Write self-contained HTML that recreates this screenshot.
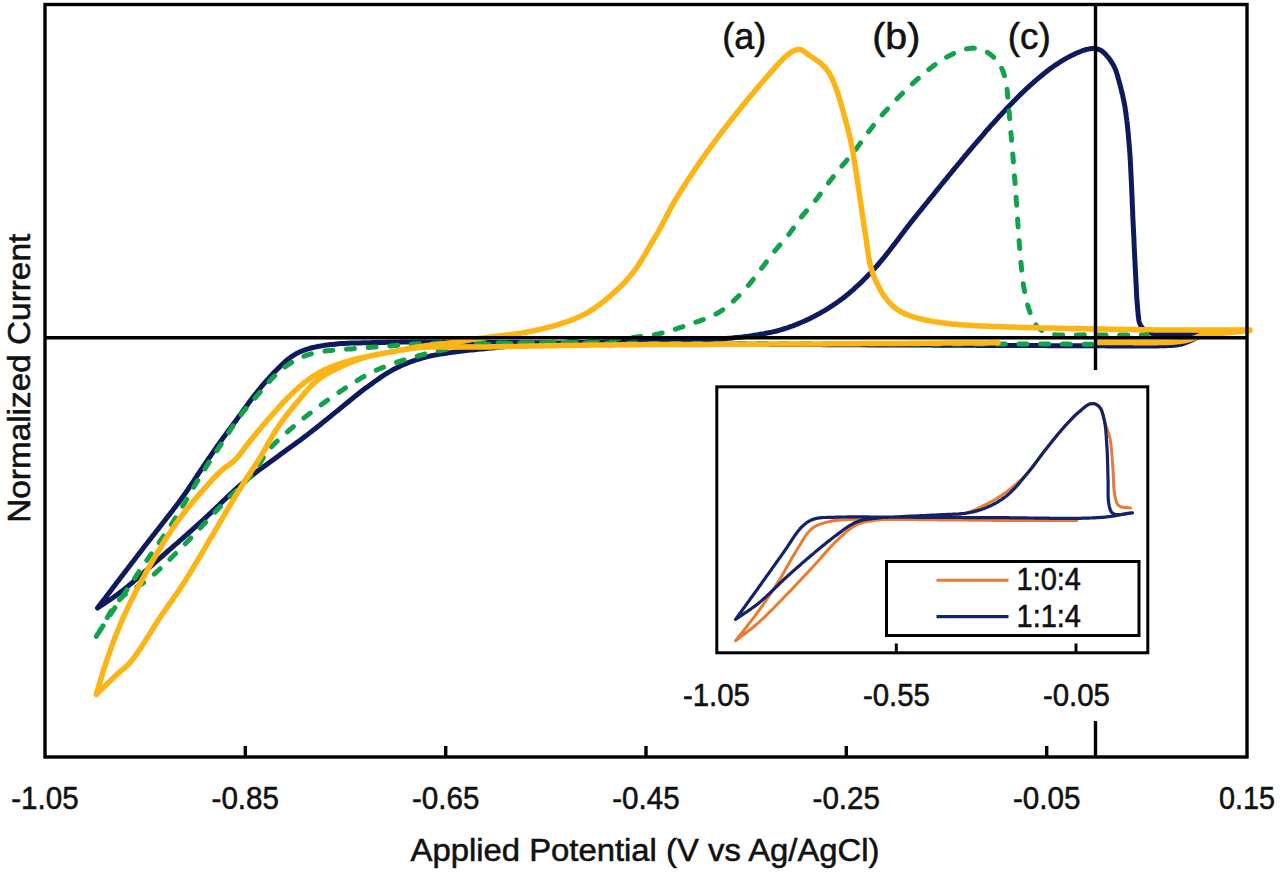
<!DOCTYPE html>
<html><head><meta charset="utf-8"><style>
html,body{margin:0;padding:0;background:#fff;width:1280px;height:874px;overflow:hidden}
svg{display:block;font-family:"Liberation Sans",sans-serif}
</style></head><body>
<svg width="1280" height="874" viewBox="0 0 1280 874">
<rect width="1280" height="874" fill="#fff"/>
<g fill="none" stroke-linejoin="round" stroke-linecap="round">
<path d="M1200.0 336.0 L1198.2 336.9 L1196.4 337.8 L1194.6 338.7 L1192.8 339.6 L1191.0 340.4 L1189.2 341.2 L1187.3 342.0 L1185.5 342.7 L1183.6 343.4 L1181.7 344.0 L1179.7 344.4 L1177.8 344.8 L1175.8 345.1 L1173.8 345.3 L1171.8 345.4 L1169.8 345.5 L1167.8 345.6 L1165.8 345.7 L1163.8 345.7 L1161.8 345.8 L1159.8 345.8 L1157.8 345.9 L1155.8 345.9 L1153.8 345.9 L1151.8 346.0 L1149.8 346.0 L1147.8 346.0 L1145.8 346.0 L1143.8 346.0 L1141.8 346.0 L1139.8 346.0 L1137.8 346.0 L1135.8 346.0 L1133.8 346.0 L1131.8 346.0 L1129.8 346.0 L1127.8 346.0 L1125.7 346.0 L1123.7 346.0 L1121.7 345.9 L1119.7 345.9 L1117.7 345.9 L1115.7 345.9 L1113.7 345.9 L1111.7 345.9 L1109.7 345.9 L1107.7 345.9 L1105.7 345.8 L1103.7 345.8 L1101.7 345.8 L1099.7 345.8 L1097.7 345.8 L1095.7 345.8 L1093.7 345.8 L1091.7 345.8 L1089.7 345.8 L1087.7 345.8 L1085.7 345.8 L1083.7 345.8 L1081.7 345.8 L1079.7 345.8 L1077.7 345.8 L1075.7 345.7 L1073.7 345.7 L1071.7 345.7 L1069.7 345.7 L1067.7 345.7 L1065.7 345.7 L1063.7 345.7 L1061.7 345.7 L1059.6 345.7 L1057.6 345.7 L1055.6 345.7 L1053.6 345.7 L1051.6 345.7 L1049.6 345.7 L1047.6 345.7 L1045.6 345.6 L1043.6 345.6 L1041.6 345.6 L1039.6 345.6 L1037.6 345.6 L1035.6 345.6 L1033.6 345.6 L1031.6 345.6 L1029.6 345.6 L1027.6 345.6 L1025.6 345.6 L1023.6 345.6 L1021.6 345.5 L1019.6 345.5 L1017.6 345.5 L1015.6 345.5 L1013.6 345.5 L1011.6 345.5 L1009.6 345.5 L1007.6 345.5 L1005.6 345.5 L1003.6 345.5 L1001.6 345.5 L999.6 345.5 L997.6 345.4 L995.6 345.4 L993.5 345.4 L991.5 345.4 L989.5 345.4 L987.5 345.4 L985.5 345.4 L983.5 345.4 L981.5 345.4 L979.5 345.4 L977.5 345.4 L975.5 345.3 L973.5 345.3 L971.5 345.3 L969.5 345.3 L967.5 345.3 L965.5 345.3 L963.5 345.3 L961.5 345.3 L959.5 345.3 L957.5 345.3 L955.5 345.3 L953.5 345.2 L951.5 345.2 L949.5 345.2 L947.5 345.2 L945.5 345.2 L943.5 345.2 L941.5 345.2 L939.5 345.2 L937.5 345.2 L935.5 345.2 L933.5 345.2 L931.5 345.1 L929.5 345.1 L927.5 345.1 L925.4 345.1 L923.4 345.1 L921.4 345.1 L919.4 345.1 L917.4 345.1 L915.4 345.1 L913.4 345.1 L911.4 345.1 L909.4 345.0 L907.4 345.0 L905.4 345.0 L903.4 345.0 L901.4 345.0 L899.4 345.0 L897.4 345.0 L895.4 345.0 L893.4 345.0 L891.4 345.0 L889.4 345.0 L887.4 344.9 L885.4 344.9 L883.4 344.9 L881.4 344.9 L879.4 344.9 L877.4 344.9 L875.4 344.9 L873.4 344.9 L871.4 344.9 L869.4 344.9 L867.4 344.9 L865.4 344.8 L863.4 344.8 L861.4 344.8 L859.3 344.8 L857.3 344.8 L855.3 344.8 L853.3 344.8 L851.3 344.8 L849.3 344.8 L847.3 344.8 L845.3 344.8 L843.3 344.7 L841.3 344.7 L839.3 344.7 L837.3 344.7 L835.3 344.7 L833.3 344.7 L831.3 344.7 L829.3 344.7 L827.3 344.7 L825.3 344.7 L823.3 344.7 L821.3 344.6 L819.3 344.6 L817.3 344.6 L815.3 344.6 L813.3 344.6 L811.3 344.6 L809.3 344.6 L807.3 344.6 L805.3 344.6 L803.3 344.6 L801.3 344.5 L799.3 344.5 L797.3 344.5 L795.3 344.5 L793.2 344.5 L791.2 344.5 L789.2 344.5 L787.2 344.5 L785.2 344.5 L783.2 344.5 L781.2 344.5 L779.2 344.4 L777.2 344.4 L775.2 344.4 L773.2 344.4 L771.2 344.4 L769.2 344.4 L767.2 344.4 L765.2 344.4 L763.2 344.4 L761.2 344.3 L759.2 344.3 L757.2 344.3 L755.2 344.3 L753.2 344.3 L751.2 344.3 L749.2 344.3 L747.2 344.3 L745.2 344.3 L743.2 344.3 L741.2 344.2 L739.2 344.2 L737.2 344.2 L735.2 344.2 L733.2 344.2 L731.2 344.2 L729.2 344.2 L727.2 344.2 L725.1 344.2 L723.1 344.1 L721.1 344.1 L719.1 344.1 L717.1 344.1 L715.1 344.1 L713.1 344.1 L711.1 344.1 L709.1 344.1 L707.1 344.0 L705.1 344.0 L703.1 344.0 L701.1 344.0 L699.1 344.0 L697.1 344.0 L695.1 344.0 L693.1 344.0 L691.1 343.9 L689.1 343.9 L687.1 343.9 L685.1 343.9 L683.1 343.9 L681.1 343.9 L679.1 343.9 L677.1 343.8 L675.1 343.8 L673.1 343.8 L671.1 343.8 L669.1 343.8 L667.1 343.8 L665.1 343.8 L663.1 343.8 L661.1 343.7 L659.0 343.7 L657.0 343.7 L655.0 343.7 L653.0 343.7 L651.0 343.7 L649.0 343.6 L647.0 343.6 L645.0 343.6 L643.0 343.6 L641.0 343.6 L639.0 343.6 L637.0 343.6 L635.0 343.5 L633.0 343.5 L631.0 343.5 L629.0 343.5 L627.0 343.5 L625.0 343.5 L623.0 343.5 L621.0 343.4 L619.0 343.4 L617.0 343.4 L615.0 343.4 L613.0 343.4 L611.0 343.4 L609.0 343.3 L607.0 343.3 L605.0 343.3 L603.0 343.3 L601.0 343.3 L599.0 343.3 L597.0 343.2 L595.0 343.2 L593.0 343.2 L590.9 343.2 L588.9 343.2 L586.9 343.2 L584.9 343.2 L582.9 343.1 L580.9 343.1 L578.9 343.1 L576.9 343.1 L574.9 343.1 L572.9 343.1 L570.9 343.0 L568.9 343.0 L566.9 343.0 L564.9 343.0 L562.9 343.0 L560.9 343.0 L558.9 342.9 L556.9 342.9 L554.9 342.9 L552.9 342.9 L550.9 342.9 L548.9 342.9 L546.9 342.9 L544.9 342.8 L542.9 342.8 L540.9 342.8 L538.9 342.8 L536.9 342.8 L534.9 342.8 L532.9 342.7 L530.9 342.7 L528.9 342.7 L526.9 342.7 L524.9 342.7 L522.8 342.7 L520.8 342.7 L518.8 342.6 L516.8 342.6 L514.8 342.6 L512.8 342.6 L510.8 342.6 L508.8 342.6 L506.8 342.5 L504.8 342.5 L502.8 342.5 L500.8 342.5 L498.8 342.5 L496.8 342.5 L494.8 342.5 L492.8 342.4 L490.8 342.4 L488.8 342.4 L486.8 342.4 L484.8 342.4 L482.8 342.4 L480.8 342.3 L478.8 342.3 L476.8 342.3 L474.8 342.3 L472.8 342.3 L470.8 342.3 L468.8 342.2 L466.8 342.2 L464.8 342.2 L462.8 342.2 L460.8 342.2 L458.8 342.2 L456.7 342.1 L454.7 342.1 L452.7 342.1 L450.7 342.1 L448.7 342.1 L446.7 342.1 L444.7 342.1 L442.7 342.0 L440.7 342.0 L438.7 342.0 L436.7 342.0 L434.7 342.0 L432.7 342.0 L430.7 342.0 L428.7 342.0 L426.7 342.0 L424.7 342.0 L422.7 342.0 L420.7 342.0 L418.7 342.0 L416.7 342.0 L414.7 342.0 L412.7 342.0 L410.7 342.0 L408.7 342.1 L406.7 342.1 L404.7 342.1 L402.7 342.1 L400.7 342.1 L398.7 342.2 L396.7 342.2 L394.7 342.2 L392.7 342.2 L390.7 342.3 L388.6 342.3 L386.6 342.3 L384.6 342.4 L382.6 342.4 L380.6 342.5 L378.6 342.5 L376.6 342.6 L374.6 342.6 L372.6 342.6 L370.6 342.7 L368.6 342.7 L366.6 342.8 L364.6 342.8 L362.6 342.8 L360.6 342.9 L358.6 342.9 L356.6 342.9 L354.6 343.0 L352.6 343.0 L350.6 343.1 L348.6 343.2 L346.6 343.3 L344.6 343.4 L342.6 343.5 L340.6 343.6 L338.6 343.8 L336.6 344.0 L334.6 344.2 L332.6 344.4 L330.6 344.6 L328.6 344.8 L326.7 345.1 L324.7 345.3 L322.7 345.6 L320.7 346.0 L318.7 346.3 L316.8 346.7 L314.8 347.1 L312.9 347.5 L310.9 348.0 L309.0 348.6 L307.1 349.1 L305.2 349.8 L303.3 350.5 L301.4 351.2 L299.6 352.0 L297.8 352.9 L296.0 353.8 L294.3 354.8 L292.6 355.9 L291.0 357.0 L289.3 358.2 L287.8 359.4 L286.3 360.7 L284.8 362.0 L283.3 363.4 L281.8 364.8 L280.4 366.2 L279.0 367.6 L277.5 369.0 L276.1 370.4 L274.7 371.8 L273.3 373.3 L272.0 374.7 L270.6 376.2 L269.3 377.7 L267.9 379.2 L266.6 380.7 L265.3 382.2 L264.0 383.7 L262.7 385.2 L261.4 386.7 L260.1 388.3 L258.8 389.8 L257.5 391.4 L256.3 393.0 L255.1 394.5 L253.8 396.1 L252.6 397.7 L251.4 399.3 L250.2 400.9 L249.0 402.5 L247.9 404.2 L246.7 405.8 L245.5 407.4 L244.3 409.0 L243.2 410.6 L242.0 412.3 L240.8 413.9 L239.6 415.5 L238.4 417.1 L237.3 418.7 L236.1 420.3 L234.9 421.9 L233.7 423.6 L232.5 425.2 L231.3 426.8 L230.1 428.4 L228.9 430.0 L227.7 431.6 L226.6 433.2 L225.4 434.9 L224.2 436.5 L223.0 438.1 L221.9 439.7 L220.7 441.3 L219.5 443.0 L218.4 444.6 L217.2 446.2 L216.1 447.9 L214.9 449.5 L213.8 451.2 L212.6 452.8 L211.5 454.5 L210.4 456.1 L209.2 457.8 L208.1 459.4 L207.0 461.1 L205.8 462.7 L204.7 464.4 L203.6 466.0 L202.5 467.7 L201.3 469.4 L200.2 471.0 L199.1 472.7 L198.0 474.4 L196.9 476.0 L195.8 477.7 L194.7 479.4 L193.6 481.1 L192.5 482.7 L191.4 484.4 L190.3 486.1 L189.1 487.7 L188.0 489.4 L186.9 491.0 L185.7 492.7 L184.6 494.3 L183.4 495.9 L182.2 497.5 L181.0 499.2 L179.9 500.8 L178.7 502.4 L177.5 504.0 L176.3 505.6 L175.1 507.2 L173.8 508.8 L172.6 510.4 L171.4 512.0 L170.2 513.6 L169.0 515.1 L167.7 516.7 L166.5 518.3 L165.3 519.9 L164.0 521.5 L162.8 523.0 L161.6 524.6 L160.3 526.2 L159.1 527.8 L157.9 529.4 L156.6 530.9 L155.4 532.5 L154.2 534.1 L152.9 535.7 L151.7 537.2 L150.5 538.8 L149.2 540.4 L148.0 542.0 L146.8 543.6 L145.5 545.1 L144.3 546.7 L143.1 548.3 L141.9 549.9 L140.7 551.5 L139.4 553.1 L138.2 554.7 L137.0 556.3 L135.8 557.8 L134.6 559.4 L133.4 561.0 L132.1 562.6 L130.9 564.2 L129.7 565.8 L128.5 567.4 L127.3 569.0 L126.1 570.6 L124.8 572.2 L123.6 573.8 L122.4 575.4 L121.2 576.9 L120.0 578.5 L118.8 580.1 L117.5 581.7 L116.3 583.3 L115.1 584.9 L113.9 586.5 L112.7 588.1 L111.5 589.7 L110.3 591.3 L109.0 592.9 L107.8 594.5 L106.6 596.1 L105.4 597.7 L104.2 599.2 L103.0 600.8 L101.8 602.4 L100.5 604.0 L99.3 605.6 L98.1 607.2 L97.5 608.0 M97.5 608.0 L99.2 606.9 L100.8 605.8 L102.5 604.7 L104.2 603.6 L105.8 602.5 L107.5 601.4 L109.2 600.2 L110.8 599.1 L112.5 598.0 L114.1 596.9 L115.8 595.7 L117.4 594.5 L119.0 593.3 L120.6 592.1 L122.2 590.9 L123.8 589.7 L125.3 588.4 L126.9 587.1 L128.4 585.9 L129.9 584.6 L131.5 583.3 L133.0 582.0 L134.5 580.7 L136.0 579.4 L137.5 578.1 L139.0 576.7 L140.5 575.4 L142.0 574.1 L143.5 572.8 L145.0 571.4 L146.5 570.1 L148.0 568.8 L149.5 567.4 L151.0 566.1 L152.5 564.8 L154.0 563.4 L155.5 562.1 L157.0 560.8 L158.5 559.4 L160.0 558.1 L161.5 556.8 L163.0 555.5 L164.5 554.2 L166.0 552.8 L167.5 551.5 L169.0 550.2 L170.5 548.9 L172.0 547.6 L173.5 546.2 L175.0 544.9 L176.6 543.6 L178.1 542.3 L179.6 540.9 L181.1 539.6 L182.6 538.3 L184.1 537.0 L185.6 535.6 L187.1 534.3 L188.6 533.0 L190.1 531.7 L191.6 530.3 L193.0 529.0 L194.5 527.7 L196.0 526.3 L197.5 525.0 L199.0 523.6 L200.5 522.3 L202.0 521.0 L203.5 519.6 L204.9 518.3 L206.4 516.9 L207.9 515.5 L209.3 514.2 L210.8 512.8 L212.3 511.4 L213.7 510.1 L215.2 508.7 L216.6 507.3 L218.1 505.9 L219.5 504.5 L220.9 503.1 L222.4 501.7 L223.8 500.4 L225.3 499.0 L226.7 497.6 L228.2 496.2 L229.6 494.8 L231.1 493.5 L232.6 492.1 L234.0 490.7 L235.5 489.4 L237.0 488.0 L238.5 486.7 L240.0 485.4 L241.5 484.1 L243.0 482.8 L244.5 481.5 L246.1 480.2 L247.6 478.9 L249.2 477.6 L250.7 476.4 L252.3 475.2 L253.9 473.9 L255.5 472.7 L257.1 471.5 L258.7 470.3 L260.3 469.1 L261.9 468.0 L263.5 466.8 L265.2 465.6 L266.8 464.4 L268.4 463.2 L270.0 462.1 L271.6 460.9 L273.3 459.7 L274.9 458.5 L276.5 457.4 L278.1 456.2 L279.7 455.0 L281.3 453.8 L283.0 452.6 L284.6 451.4 L286.2 450.3 L287.8 449.1 L289.4 447.9 L291.1 446.7 L292.7 445.6 L294.3 444.4 L295.9 443.2 L297.5 442.0 L299.2 440.9 L300.8 439.7 L302.4 438.5 L304.0 437.3 L305.6 436.1 L307.2 434.9 L308.8 433.6 L310.3 432.4 L311.9 431.2 L313.5 429.9 L315.1 428.7 L316.6 427.5 L318.2 426.2 L319.8 425.0 L321.3 423.7 L322.9 422.4 L324.4 421.2 L326.0 419.9 L327.6 418.7 L329.1 417.4 L330.7 416.2 L332.2 414.9 L333.8 413.6 L335.3 412.4 L336.9 411.1 L338.5 409.9 L340.0 408.6 L341.6 407.3 L343.1 406.1 L344.7 404.8 L346.2 403.5 L347.8 402.3 L349.3 401.0 L350.9 399.7 L352.4 398.5 L354.0 397.2 L355.5 395.9 L357.1 394.7 L358.7 393.5 L360.2 392.2 L361.8 391.0 L363.4 389.8 L365.0 388.6 L366.6 387.4 L368.3 386.2 L369.9 385.0 L371.5 383.9 L373.1 382.7 L374.7 381.5 L376.4 380.4 L378.0 379.2 L379.6 378.1 L381.3 376.9 L383.0 375.8 L384.6 374.7 L386.3 373.7 L388.0 372.6 L389.8 371.6 L391.5 370.6 L393.2 369.6 L395.0 368.7 L396.8 367.8 L398.6 366.9 L400.4 366.0 L402.2 365.2 L404.1 364.4 L405.9 363.6 L407.8 362.9 L409.6 362.2 L411.5 361.5 L413.4 360.8 L415.3 360.2 L417.2 359.5 L419.1 359.0 L421.0 358.4 L423.0 357.8 L424.9 357.3 L426.8 356.8 L428.8 356.4 L430.7 355.9 L432.7 355.5 L434.7 355.1 L436.6 354.8 L438.6 354.4 L440.6 354.1 L442.6 353.8 L444.5 353.5 L446.5 353.2 L448.5 352.9 L450.5 352.6 L452.5 352.3 L454.4 352.1 L456.4 351.8 L458.4 351.5 L460.4 351.2 L462.4 351.0 L464.4 350.7 L466.4 350.5 L468.3 350.3 L470.3 350.1 L472.3 349.9 L474.3 349.7 L476.3 349.5 L478.3 349.3 L480.3 349.1 L482.3 348.9 L484.3 348.7 L486.3 348.5 L488.3 348.3 L490.3 348.1 L492.3 347.9 L494.2 347.7 L496.2 347.5 L498.2 347.3 L500.2 347.1 L502.2 347.0 L504.2 346.8 L506.2 346.6 L508.2 346.4 L510.2 346.2 L512.2 346.1 L514.2 345.9 L516.2 345.7 L518.2 345.6 L520.2 345.4 L522.2 345.2 L524.2 345.1 L526.2 344.9 L528.2 344.8 L530.2 344.6 L532.2 344.5 L534.2 344.4 L536.1 344.2 L538.1 344.1 L540.1 344.0 L542.1 343.9 L544.1 343.8 L546.1 343.7 L548.1 343.6 L550.1 343.5 L552.1 343.4 L554.1 343.3 L556.1 343.2 L558.1 343.2 L560.1 343.1 L562.1 343.0 L564.1 342.9 L566.2 342.9 L568.2 342.8 L570.2 342.7 L572.2 342.7 L574.2 342.6 L576.2 342.6 L578.2 342.5 L580.2 342.5 L582.2 342.4 L584.2 342.4 L586.2 342.3 L588.2 342.3 L590.2 342.2 L592.2 342.2 L594.2 342.1 L596.2 342.1 L598.2 342.0 L600.2 342.0 L602.2 342.0 L604.2 341.9 L606.2 341.9 L608.2 341.8 L610.2 341.8 L612.2 341.7 L614.2 341.7 L616.2 341.6 L618.2 341.5 L620.2 341.5 L622.2 341.4 L624.2 341.4 L626.2 341.3 L628.2 341.3 L630.2 341.2 L632.2 341.2 L634.2 341.2 L636.2 341.1 L638.2 341.1 L640.2 341.0 L642.2 341.0 L644.2 341.0 L646.2 340.9 L648.2 340.9 L650.2 340.9 L652.2 340.8 L654.2 340.8 L656.2 340.8 L658.2 340.7 L660.2 340.7 L662.2 340.7 L664.2 340.6 L666.2 340.6 L668.2 340.5 L670.2 340.5 L672.2 340.5 L674.2 340.4 L676.2 340.4 L678.3 340.4 L680.3 340.3 L682.3 340.3 L684.3 340.2 L686.3 340.2 L688.3 340.1 L690.3 340.1 L692.3 340.0 L694.3 340.0 L696.3 339.9 L698.3 339.9 L700.3 339.8 L702.3 339.8 L704.3 339.7 L706.3 339.6 L708.3 339.5 L710.3 339.4 L712.3 339.4 L714.3 339.3 L716.3 339.1 L718.3 339.0 L720.3 338.9 L722.3 338.8 L724.3 338.6 L726.3 338.5 L728.3 338.3 L730.3 338.2 L732.3 338.0 L734.2 337.8 L736.2 337.6 L738.2 337.4 L740.2 337.2 L742.2 337.0 L744.2 336.7 L746.2 336.4 L748.2 336.2 L750.1 335.9 L752.1 335.6 L754.1 335.3 L756.1 335.0 L758.1 334.7 L760.0 334.3 L762.0 334.0 L764.0 333.7 L765.9 333.3 L767.9 332.9 L769.9 332.5 L771.8 332.1 L773.8 331.6 L775.7 331.2 L777.7 330.7 L779.6 330.2 L781.5 329.6 L783.4 329.0 L785.4 328.4 L787.3 327.8 L789.1 327.1 L791.0 326.5 L792.9 325.8 L794.8 325.1 L796.7 324.4 L798.5 323.6 L800.4 322.8 L802.2 322.0 L804.0 321.2 L805.8 320.4 L807.7 319.6 L809.5 318.7 L811.3 317.8 L813.0 316.9 L814.8 316.0 L816.6 315.0 L818.4 314.1 L820.1 313.1 L821.8 312.1 L823.6 311.1 L825.3 310.1 L827.0 309.1 L828.7 308.0 L830.4 306.9 L832.1 305.8 L833.7 304.7 L835.4 303.6 L837.0 302.5 L838.7 301.3 L840.3 300.1 L841.9 298.9 L843.5 297.7 L845.1 296.5 L846.6 295.2 L848.2 294.0 L849.7 292.7 L851.2 291.4 L852.8 290.1 L854.3 288.7 L855.7 287.4 L857.2 286.0 L858.7 284.7 L860.1 283.3 L861.6 281.9 L863.0 280.5 L864.4 279.1 L865.8 277.7 L867.2 276.2 L868.6 274.8 L870.0 273.4 L871.4 271.9 L872.7 270.4 L874.1 269.0 L875.4 267.5 L876.8 266.0 L878.1 264.5 L879.4 263.0 L880.7 261.4 L882.0 259.9 L883.2 258.3 L884.5 256.8 L885.8 255.2 L887.0 253.7 L888.2 252.1 L889.5 250.5 L890.7 248.9 L891.9 247.3 L893.1 245.7 L894.4 244.2 L895.6 242.6 L896.8 241.0 L898.0 239.4 L899.2 237.8 L900.4 236.2 L901.6 234.6 L902.8 233.0 L904.0 231.4 L905.2 229.8 L906.4 228.2 L907.6 226.6 L908.9 225.0 L910.1 223.4 L911.3 221.9 L912.6 220.3 L913.8 218.7 L915.1 217.2 L916.3 215.6 L917.6 214.0 L918.8 212.5 L920.1 210.9 L921.4 209.4 L922.6 207.8 L923.9 206.2 L925.1 204.7 L926.4 203.1 L927.7 201.6 L928.9 200.0 L930.2 198.5 L931.4 196.9 L932.7 195.4 L934.0 193.8 L935.2 192.2 L936.5 190.7 L937.7 189.1 L939.0 187.6 L940.3 186.0 L941.5 184.5 L942.8 182.9 L944.1 181.4 L945.3 179.8 L946.6 178.3 L947.9 176.7 L949.1 175.2 L950.4 173.6 L951.7 172.1 L952.9 170.5 L954.2 169.0 L955.5 167.4 L956.8 165.9 L958.0 164.3 L959.3 162.8 L960.6 161.3 L961.9 159.7 L963.1 158.2 L964.4 156.6 L965.7 155.1 L967.0 153.6 L968.3 152.0 L969.6 150.5 L970.9 149.0 L972.2 147.4 L973.5 145.9 L974.8 144.4 L976.1 142.9 L977.4 141.3 L978.7 139.8 L980.0 138.3 L981.3 136.8 L982.6 135.3 L983.9 133.8 L985.2 132.2 L986.5 130.7 L987.8 129.2 L989.2 127.7 L990.5 126.2 L991.8 124.7 L993.2 123.3 L994.5 121.8 L995.9 120.3 L997.2 118.8 L998.5 117.3 L999.9 115.8 L1001.3 114.4 L1002.6 112.9 L1004.0 111.4 L1005.4 110.0 L1006.7 108.5 L1008.1 107.1 L1009.5 105.6 L1010.9 104.2 L1012.3 102.8 L1013.7 101.3 L1015.1 99.9 L1016.5 98.5 L1017.9 97.1 L1019.3 95.6 L1020.8 94.2 L1022.2 92.8 L1023.6 91.5 L1025.1 90.1 L1026.5 88.7 L1028.0 87.3 L1029.5 86.0 L1031.0 84.6 L1032.5 83.3 L1034.0 82.0 L1035.5 80.7 L1037.0 79.4 L1038.5 78.1 L1040.1 76.8 L1041.6 75.5 L1043.2 74.2 L1044.7 73.0 L1046.3 71.8 L1047.9 70.5 L1049.5 69.3 L1051.1 68.1 L1052.7 67.0 L1054.3 65.8 L1056.0 64.7 L1057.7 63.6 L1059.3 62.5 L1061.0 61.4 L1062.7 60.4 L1064.5 59.3 L1066.2 58.4 L1068.0 57.4 L1069.7 56.5 L1071.5 55.5 L1073.3 54.7 L1075.1 53.8 L1076.9 53.0 L1078.8 52.2 L1080.6 51.5 L1082.5 50.7 L1084.4 50.1 L1086.3 49.5 L1088.3 49.1 L1090.2 48.7 L1092.2 48.5 L1094.2 48.5 L1096.1 48.7 L1098.0 49.2 L1099.9 49.9 L1101.6 50.8 L1103.1 52.0 L1104.6 53.3 L1106.0 54.8 L1107.3 56.3 L1108.6 57.8 L1109.8 59.4 L1110.9 61.1 L1112.0 62.8 L1113.0 64.5 L1114.0 66.2 L1114.8 68.0 L1115.6 69.9 L1116.3 71.8 L1116.9 73.7 L1117.5 75.6 L1118.0 77.5 L1118.5 79.4 L1119.1 81.4 L1119.6 83.3 L1120.1 85.2 L1120.6 87.2 L1121.1 89.1 L1121.6 91.1 L1122.1 93.0 L1122.6 94.9 L1123.0 96.9 L1123.4 98.9 L1123.8 100.8 L1124.2 102.8 L1124.6 104.8 L1124.9 106.7 L1125.2 108.7 L1125.5 110.7 L1125.8 112.7 L1126.1 114.6 L1126.3 116.6 L1126.6 118.6 L1126.8 120.6 L1127.1 122.6 L1127.3 124.6 L1127.5 126.6 L1127.7 128.6 L1127.9 130.6 L1128.1 132.6 L1128.3 134.5 L1128.5 136.5 L1128.6 138.5 L1128.8 140.5 L1129.0 142.5 L1129.1 144.5 L1129.3 146.5 L1129.5 148.5 L1129.6 150.5 L1129.8 152.5 L1129.9 154.5 L1130.0 156.5 L1130.2 158.5 L1130.3 160.5 L1130.4 162.5 L1130.5 164.5 L1130.6 166.5 L1130.7 168.5 L1130.8 170.5 L1130.9 172.5 L1131.0 174.5 L1131.1 176.5 L1131.2 178.5 L1131.3 180.5 L1131.4 182.5 L1131.5 184.5 L1131.6 186.5 L1131.7 188.5 L1131.7 190.5 L1131.8 192.5 L1131.9 194.5 L1132.0 196.5 L1132.1 198.5 L1132.2 200.5 L1132.2 202.5 L1132.3 204.5 L1132.4 206.5 L1132.5 208.5 L1132.6 210.5 L1132.7 212.5 L1132.7 214.5 L1132.8 216.5 L1132.9 218.5 L1133.0 220.5 L1133.1 222.5 L1133.2 224.5 L1133.3 226.5 L1133.4 228.5 L1133.5 230.5 L1133.6 232.5 L1133.7 234.5 L1133.8 236.5 L1133.9 238.5 L1134.0 240.5 L1134.0 242.5 L1134.1 244.5 L1134.2 246.5 L1134.3 248.5 L1134.4 250.5 L1134.5 252.5 L1134.6 254.5 L1134.7 256.5 L1134.8 258.5 L1134.9 260.5 L1135.0 262.5 L1135.1 264.5 L1135.2 266.5 L1135.3 268.5 L1135.4 270.5 L1135.5 272.5 L1135.6 274.5 L1135.7 276.5 L1135.8 278.5 L1135.9 280.5 L1136.0 282.5 L1136.1 284.5 L1136.2 286.5 L1136.3 288.5 L1136.4 290.5 L1136.5 292.5 L1136.6 294.5 L1136.7 296.5 L1136.8 298.5 L1137.0 300.5 L1137.1 302.5 L1137.3 304.5 L1137.5 306.5 L1137.6 308.5 L1137.8 310.5 L1138.0 312.5 L1138.2 314.5 L1138.3 316.5 L1138.6 318.4 L1138.9 320.4 L1139.3 322.3 L1140.0 324.2 L1140.9 325.9 L1142.0 327.5 L1143.3 329.0 L1144.9 330.2 L1146.5 331.2 L1148.3 332.1 L1150.2 332.8 L1152.1 333.4 L1154.0 333.7 L1156.0 334.0 L1158.0 334.1 L1160.0 334.2 L1162.0 334.3 L1164.0 334.2 L1166.0 334.2 L1168.0 334.2 L1170.0 334.1 L1172.0 334.1 L1174.0 334.0 L1176.0 334.0 L1178.0 334.0 L1180.0 334.0 L1182.0 334.1 L1184.0 334.2 L1186.0 334.3 L1188.0 334.4 L1190.0 334.5 L1192.0 334.6 L1194.0 334.7 L1196.0 334.8 L1198.0 334.9 L1200.0 335.0" stroke="#0d1b5c" stroke-width="5"/>
<path d="M1092.0 344.2 L1090.0 344.2 L1088.0 344.2 L1086.0 344.2 L1084.0 344.2 L1082.0 344.2 L1080.0 344.2 L1078.0 344.2 L1076.0 344.2 L1074.0 344.2 L1072.0 344.2 L1070.0 344.2 L1068.0 344.1 L1066.0 344.1 L1064.0 344.1 L1062.0 344.1 L1059.9 344.1 L1057.9 344.1 L1055.9 344.1 L1053.9 344.1 L1051.9 344.1 L1049.9 344.1 L1047.9 344.1 L1045.9 344.1 L1043.9 344.1 L1041.9 344.1 L1039.9 344.1 L1037.9 344.1 L1035.9 344.1 L1033.9 344.1 L1031.9 344.1 L1029.9 344.1 L1027.9 344.1 L1025.9 344.1 L1023.9 344.0 L1021.9 344.0 L1019.9 344.0 L1017.9 344.0 L1015.9 344.0 L1013.9 344.0 L1011.9 344.0 L1009.9 344.0 L1007.9 344.0 L1005.9 344.0 L1003.9 344.0 L1001.9 344.0 L999.9 344.0 L997.9 344.0 L995.8 344.0 L993.8 344.0 L991.8 344.0 L989.8 344.0 L987.8 344.0 L985.8 344.0 L983.8 344.0 L981.8 344.0 L979.8 344.0 L977.8 344.0 L975.8 344.0 L973.8 344.0 L971.8 343.9 L969.8 343.9 L967.8 343.9 L965.8 343.9 L963.8 343.9 L961.8 343.9 L959.8 343.9 L957.8 343.9 L955.8 343.9 L953.8 343.9 L951.8 343.9 L949.8 343.9 L947.8 343.9 L945.8 343.9 L943.8 343.9 L941.8 343.9 L939.8 343.9 L937.8 343.9 L935.8 343.9 L933.7 343.9 L931.7 343.9 L929.7 343.9 L927.7 343.9 L925.7 343.9 L923.7 343.9 L921.7 343.9 L919.7 343.9 L917.7 343.9 L915.7 343.9 L913.7 343.9 L911.7 343.9 L909.7 343.8 L907.7 343.8 L905.7 343.8 L903.7 343.8 L901.7 343.8 L899.7 343.8 L897.7 343.8 L895.7 343.8 L893.7 343.8 L891.7 343.8 L889.7 343.8 L887.7 343.8 L885.7 343.8 L883.7 343.8 L881.7 343.8 L879.7 343.8 L877.7 343.8 L875.7 343.8 L873.7 343.8 L871.7 343.8 L869.6 343.8 L867.6 343.8 L865.6 343.8 L863.6 343.8 L861.6 343.8 L859.6 343.8 L857.6 343.8 L855.6 343.8 L853.6 343.8 L851.6 343.8 L849.6 343.8 L847.6 343.8 L845.6 343.7 L843.6 343.7 L841.6 343.7 L839.6 343.7 L837.6 343.7 L835.6 343.7 L833.6 343.7 L831.6 343.7 L829.6 343.7 L827.6 343.7 L825.6 343.7 L823.6 343.7 L821.6 343.7 L819.6 343.7 L817.6 343.7 L815.6 343.7 L813.6 343.7 L811.6 343.7 L809.6 343.7 L807.6 343.7 L805.5 343.7 L803.5 343.7 L801.5 343.7 L799.5 343.7 L797.5 343.7 L795.5 343.7 L793.5 343.7 L791.5 343.7 L789.5 343.7 L787.5 343.7 L785.5 343.7 L783.5 343.6 L781.5 343.6 L779.5 343.6 L777.5 343.6 L775.5 343.6 L773.5 343.6 L771.5 343.6 L769.5 343.6 L767.5 343.6 L765.5 343.6 L763.5 343.6 L761.5 343.6 L759.5 343.6 L757.5 343.6 L755.5 343.6 L753.5 343.6 L751.5 343.6 L749.5 343.6 L747.5 343.6 L745.5 343.6 L743.4 343.6 L741.4 343.6 L739.4 343.6 L737.4 343.6 L735.4 343.6 L733.4 343.6 L731.4 343.6 L729.4 343.6 L727.4 343.6 L725.4 343.5 L723.4 343.5 L721.4 343.5 L719.4 343.5 L717.4 343.5 L715.4 343.5 L713.4 343.5 L711.4 343.5 L709.4 343.5 L707.4 343.5 L705.4 343.5 L703.4 343.5 L701.4 343.5 L699.4 343.5 L697.4 343.5 L695.4 343.5 L693.4 343.5 L691.4 343.5 L689.4 343.5 L687.4 343.5 L685.4 343.5 L683.4 343.5 L681.4 343.5 L679.3 343.5 L677.3 343.4 L675.3 343.4 L673.3 343.4 L671.3 343.4 L669.3 343.4 L667.3 343.4 L665.3 343.4 L663.3 343.4 L661.3 343.4 L659.3 343.4 L657.3 343.4 L655.3 343.4 L653.3 343.4 L651.3 343.4 L649.3 343.4 L647.3 343.4 L645.3 343.3 L643.3 343.3 L641.3 343.3 L639.3 343.3 L637.3 343.3 L635.3 343.3 L633.3 343.3 L631.3 343.3 L629.3 343.3 L627.3 343.3 L625.3 343.3 L623.3 343.3 L621.3 343.3 L619.3 343.3 L617.2 343.3 L615.2 343.2 L613.2 343.2 L611.2 343.2 L609.2 343.2 L607.2 343.2 L605.2 343.2 L603.2 343.2 L601.2 343.2 L599.2 343.2 L597.2 343.2 L595.2 343.2 L593.2 343.2 L591.2 343.2 L589.2 343.2 L587.2 343.1 L585.2 343.1 L583.2 343.1 L581.2 343.1 L579.2 343.1 L577.2 343.1 L575.2 343.1 L573.2 343.1 L571.2 343.1 L569.2 343.1 L567.2 343.1 L565.2 343.1 L563.2 343.1 L561.2 343.1 L559.2 343.1 L557.2 343.0 L555.2 343.0 L553.1 343.0 L551.1 343.0 L549.1 343.0 L547.1 343.0 L545.1 343.0 L543.1 343.0 L541.1 343.0 L539.1 343.0 L537.1 343.0 L535.1 343.0 L533.1 343.0 L531.1 343.0 L529.1 343.0 L527.1 343.0 L525.1 343.0 L523.1 343.0 L521.1 343.0 L519.1 343.0 L517.1 343.0 L515.1 343.0 L513.1 343.0 L511.1 343.0 L509.1 343.0 L507.1 343.0 L505.1 343.0 L503.1 343.0 L501.1 343.0 L499.1 343.0 L497.1 343.0 L495.1 343.0 L493.1 343.0 L491.1 343.0 L489.0 343.0 L487.0 343.0 L485.0 343.0 L483.0 343.0 L481.0 343.0 L479.0 343.0 L477.0 343.0 L475.0 343.0 L473.0 343.0 L471.0 343.0 L469.0 343.0 L467.0 343.0 L465.0 343.0 L463.0 343.0 L461.0 343.0 L459.0 343.0 L457.0 343.0 L455.0 343.0 L453.0 343.1 L451.0 343.1 L449.0 343.1 L447.0 343.1 L445.0 343.1 L443.0 343.1 L441.0 343.1 L439.0 343.1 L437.0 343.2 L435.0 343.2 L433.0 343.2 L431.0 343.3 L429.0 343.3 L427.0 343.4 L424.9 343.4 L422.9 343.5 L420.9 343.6 L418.9 343.7 L416.9 343.8 L414.9 343.9 L412.9 344.0 L410.9 344.2 L409.0 344.3 L407.0 344.5 L405.0 344.7 L403.0 344.9 L401.0 345.0 L399.0 345.2 L397.0 345.4 L395.0 345.6 L393.0 345.7 L391.0 345.9 L389.0 346.0 L387.0 346.1 L385.0 346.3 L383.0 346.4 L381.0 346.6 L379.0 346.7 L377.0 346.9 L375.0 347.0 L373.0 347.1 L371.0 347.3 L369.0 347.4 L367.0 347.6 L365.0 347.7 L363.0 347.9 L361.0 348.1 L359.0 348.2 L357.0 348.4 L355.0 348.5 L353.0 348.7 L351.0 348.9 L349.0 349.0 L347.0 349.1 L345.0 349.3 L343.0 349.4 L341.0 349.6 L339.1 349.7 L337.1 349.9 L335.1 350.0 L333.1 350.2 L331.1 350.4 L329.1 350.6 L327.1 350.8 L325.1 351.0 L323.1 351.3 L321.1 351.6 L319.2 352.0 L317.2 352.3 L315.2 352.8 L313.3 353.3 L311.4 353.8 L309.4 354.3 L307.5 354.9 L305.6 355.6 L303.8 356.3 L301.9 357.1 L300.1 357.9 L298.3 358.8 L296.5 359.7 L294.8 360.6 L293.0 361.6 L291.3 362.7 L289.6 363.8 L288.0 364.9 L286.3 366.0 L284.7 367.2 L283.1 368.4 L281.6 369.7 L280.0 371.0 L278.5 372.3 L277.0 373.6 L275.5 375.0 L274.1 376.4 L272.7 377.8 L271.3 379.2 L270.0 380.7 L268.6 382.2 L267.3 383.7 L266.0 385.2 L264.7 386.8 L263.4 388.3 L262.1 389.8 L260.8 391.3 L259.5 392.9 L258.2 394.4 L256.9 395.9 L255.6 397.4 L254.3 398.9 L253.0 400.4 L251.6 401.9 L250.3 403.5 L249.0 405.0 L247.7 406.5 L246.4 408.0 L245.2 409.6 L243.9 411.1 L242.6 412.7 L241.4 414.3 L240.2 415.8 L239.0 417.4 L237.8 419.1 L236.6 420.7 L235.5 422.3 L234.3 424.0 L233.2 425.6 L232.1 427.3 L231.0 429.0 L229.9 430.6 L228.8 432.3 L227.7 434.0 L226.6 435.7 L225.5 437.4 L224.4 439.1 L223.4 440.7 L222.3 442.4 L221.2 444.1 L220.1 445.8 L219.0 447.5 L217.9 449.1 L216.8 450.8 L215.7 452.5 L214.6 454.1 L213.4 455.8 L212.3 457.5 L211.2 459.1 L210.1 460.8 L209.0 462.5 L207.9 464.1 L206.8 465.8 L205.8 467.5 L204.7 469.2 L203.6 470.9 L202.6 472.6 L201.5 474.3 L200.5 476.0 L199.4 477.7 L198.4 479.4 L197.4 481.2 L196.3 482.9 L195.3 484.6 L194.3 486.3 L193.3 488.1 L192.3 489.8 L191.3 491.5 L190.3 493.3 L189.2 495.0 L188.2 496.7 L187.2 498.4 L186.2 500.2 L185.2 501.9 L184.2 503.6 L183.1 505.3 L182.1 507.1 L181.1 508.8 L180.1 510.5 L179.0 512.2 L178.0 513.9 L176.9 515.6 L175.9 517.3 L174.8 519.0 L173.8 520.7 L172.7 522.4 L171.6 524.1 L170.5 525.8 L169.4 527.5 L168.3 529.1 L167.2 530.8 L166.1 532.5 L165.0 534.1 L163.8 535.8 L162.7 537.4 L161.6 539.1 L160.4 540.7 L159.3 542.4 L158.2 544.0 L157.0 545.7 L155.9 547.3 L154.7 549.0 L153.6 550.6 L152.4 552.3 L151.3 553.9 L150.2 555.5 L149.0 557.2 L147.9 558.8 L146.7 560.5 L145.6 562.1 L144.5 563.8 L143.3 565.4 L142.2 567.1 L141.1 568.8 L140.0 570.4 L138.8 572.1 L137.7 573.7 L136.6 575.4 L135.5 577.1 L134.4 578.7 L133.2 580.4 L132.1 582.0 L131.0 583.7 L129.9 585.4 L128.8 587.0 L127.7 588.7 L126.5 590.4 L125.4 592.0 L124.3 593.7 L123.2 595.3 L122.1 597.0 L121.0 598.7 L119.8 600.3 L118.7 602.0 L117.6 603.7 L116.5 605.3 L115.4 607.0 L114.3 608.7 L113.2 610.3 L112.1 612.0 L111.0 613.7 L109.9 615.4 L108.8 617.0 L107.7 618.7 L106.6 620.4 L105.5 622.1 L104.4 623.7 L103.3 625.4 L102.2 627.1 L101.1 628.8 L100.1 630.5 L99.0 632.2 L97.9 633.9 L96.8 635.6 L96.3 636.4 M96.3 636.4 L97.3 634.7 L98.4 633.0 L99.4 631.3 L100.4 629.5 L101.4 627.8 L102.4 626.1 L103.4 624.3 L104.4 622.6 L105.4 620.8 L106.4 619.1 L107.4 617.4 L108.4 615.6 L109.4 613.9 L110.4 612.2 L111.5 610.5 L112.6 608.8 L113.7 607.1 L114.8 605.5 L116.0 603.9 L117.3 602.3 L118.5 600.8 L119.9 599.3 L121.3 597.9 L122.7 596.5 L124.2 595.2 L125.8 593.9 L127.4 592.8 L129.1 591.6 L130.7 590.6 L132.5 589.5 L134.2 588.5 L135.9 587.5 L137.6 586.4 L139.3 585.4 L141.0 584.4 L142.7 583.3 L144.4 582.1 L146.0 581.0 L147.6 579.8 L149.1 578.5 L150.7 577.2 L152.2 575.9 L153.7 574.6 L155.2 573.3 L156.7 571.9 L158.2 570.6 L159.6 569.2 L161.1 567.8 L162.5 566.4 L164.0 565.0 L165.4 563.7 L166.8 562.2 L168.3 560.8 L169.7 559.4 L171.1 558.0 L172.5 556.6 L173.9 555.2 L175.3 553.8 L176.7 552.3 L178.1 550.9 L179.5 549.5 L181.0 548.1 L182.4 546.6 L183.8 545.2 L185.2 543.8 L186.6 542.4 L188.0 540.9 L189.4 539.5 L190.8 538.0 L192.1 536.6 L193.5 535.1 L194.9 533.7 L196.3 532.2 L197.7 530.8 L199.0 529.3 L200.4 527.9 L201.8 526.4 L203.1 524.9 L204.5 523.5 L205.9 522.0 L207.2 520.5 L208.6 519.1 L210.0 517.6 L211.3 516.1 L212.7 514.7 L214.1 513.2 L215.4 511.8 L216.8 510.3 L218.2 508.8 L219.6 507.4 L220.9 505.9 L222.3 504.5 L223.7 503.0 L225.1 501.6 L226.5 500.2 L227.9 498.7 L229.3 497.3 L230.7 495.9 L232.2 494.5 L233.6 493.1 L235.0 491.7 L236.5 490.3 L237.9 488.9 L239.3 487.5 L240.8 486.1 L242.2 484.7 L243.6 483.3 L245.0 481.9 L246.4 480.4 L247.8 479.0 L249.2 477.5 L250.5 476.1 L251.9 474.6 L253.2 473.1 L254.4 471.5 L255.7 469.9 L256.8 468.3 L257.9 466.7 L259.0 465.0 L260.0 463.2 L261.0 461.5 L262.0 459.8 L263.0 458.0 L264.1 456.3 L265.2 454.7 L266.3 453.0 L267.5 451.4 L268.8 449.9 L270.1 448.4 L271.5 446.9 L272.8 445.4 L274.2 444.0 L275.6 442.6 L277.1 441.2 L278.5 439.8 L280.0 438.4 L281.5 437.1 L282.9 435.7 L284.4 434.4 L285.9 433.1 L287.5 431.8 L289.0 430.5 L290.5 429.1 L292.0 427.9 L293.5 426.6 L295.1 425.3 L296.6 424.0 L298.1 422.7 L299.7 421.4 L301.2 420.2 L302.8 418.9 L304.4 417.6 L305.9 416.4 L307.5 415.2 L309.1 413.9 L310.7 412.7 L312.2 411.5 L313.8 410.3 L315.4 409.0 L317.0 407.8 L318.6 406.6 L320.2 405.5 L321.9 404.3 L323.5 403.1 L325.1 401.9 L326.7 400.8 L328.4 399.6 L330.0 398.5 L331.7 397.3 L333.3 396.2 L335.0 395.0 L336.6 393.9 L338.3 392.8 L339.9 391.7 L341.6 390.6 L343.3 389.5 L344.9 388.3 L346.6 387.2 L348.3 386.1 L350.0 385.0 L351.6 384.0 L353.3 382.9 L355.0 381.8 L356.7 380.8 L358.4 379.7 L360.2 378.7 L361.9 377.7 L363.6 376.7 L365.4 375.7 L367.1 374.8 L368.9 373.8 L370.7 372.9 L372.5 372.0 L374.3 371.2 L376.1 370.3 L377.9 369.5 L379.8 368.7 L381.6 367.9 L383.5 367.2 L385.3 366.4 L387.2 365.7 L389.1 365.0 L391.0 364.3 L392.8 363.7 L394.7 363.0 L396.6 362.4 L398.5 361.7 L400.4 361.1 L402.3 360.5 L404.3 359.9 L406.2 359.3 L408.1 358.7 L410.0 358.2 L411.9 357.6 L413.8 357.1 L415.8 356.5 L417.7 356.0 L419.6 355.4 L421.6 354.9 L423.5 354.4 L425.4 353.9 L427.4 353.4 L429.3 352.9 L431.3 352.5 L433.2 352.0 L435.2 351.6 L437.1 351.2 L439.1 350.8 L441.1 350.4 L443.0 350.1 L445.0 349.7 L447.0 349.4 L449.0 349.0 L450.9 348.7 L452.9 348.3 L454.9 348.0 L456.9 347.7 L458.8 347.4 L460.8 347.1 L462.8 346.9 L464.8 346.6 L466.8 346.3 L468.8 346.1 L470.8 345.9 L472.7 345.7 L474.7 345.5 L476.7 345.3 L478.7 345.1 L480.7 345.0 L482.7 344.8 L484.7 344.7 L486.7 344.5 L488.7 344.4 L490.7 344.3 L492.7 344.2 L494.7 344.1 L496.7 344.0 L498.7 344.0 L500.7 343.9 L502.7 343.8 L504.7 343.7 L506.7 343.7 L508.7 343.6 L510.7 343.6 L512.7 343.5 L514.7 343.4 L516.7 343.4 L518.7 343.3 L520.7 343.3 L522.7 343.2 L524.7 343.2 L526.7 343.1 L528.7 343.1 L530.7 343.0 L532.7 343.0 L534.7 342.9 L536.7 342.9 L538.8 342.8 L540.8 342.7 L542.8 342.7 L544.8 342.6 L546.8 342.5 L548.8 342.5 L550.8 342.4 L552.8 342.3 L554.8 342.2 L556.8 342.1 L558.8 342.1 L560.8 342.0 L562.8 341.9 L564.8 341.8 L566.8 341.7 L568.8 341.6 L570.8 341.4 L572.8 341.3 L574.8 341.2 L576.8 341.1 L578.8 341.0 L580.8 340.9 L582.8 340.8 L584.8 340.7 L586.8 340.6 L588.8 340.5 L590.8 340.3 L592.8 340.2 L594.8 340.1 L596.8 340.0 L598.8 339.9 L600.8 339.7 L602.7 339.6 L604.7 339.5 L606.7 339.4 L608.7 339.2 L610.7 339.1 L612.7 339.0 L614.7 338.8 L616.7 338.7 L618.7 338.5 L620.7 338.4 L622.7 338.2 L624.7 338.1 L626.7 337.9 L628.7 337.7 L630.7 337.6 L632.7 337.4 L634.7 337.2 L636.7 337.0 L638.7 336.8 L640.7 336.6 L642.7 336.4 L644.7 336.2 L646.6 336.0 L648.6 335.7 L650.6 335.4 L652.6 335.1 L654.6 334.7 L656.5 334.3 L658.5 333.9 L660.4 333.4 L662.4 332.9 L664.3 332.4 L666.2 331.9 L668.1 331.3 L670.1 330.8 L672.0 330.2 L673.9 329.6 L675.8 329.0 L677.7 328.3 L679.6 327.7 L681.5 327.1 L683.4 326.4 L685.3 325.8 L687.2 325.1 L689.1 324.5 L691.0 323.8 L692.9 323.2 L694.8 322.5 L696.7 321.9 L698.6 321.3 L700.5 320.6 L702.3 319.9 L704.2 319.3 L706.1 318.5 L708.0 317.8 L709.8 317.0 L711.6 316.2 L713.4 315.4 L715.2 314.4 L717.0 313.5 L718.7 312.5 L720.4 311.4 L722.1 310.3 L723.7 309.1 L725.3 307.9 L726.9 306.7 L728.4 305.4 L729.9 304.1 L731.4 302.8 L732.9 301.5 L734.4 300.1 L735.8 298.7 L737.3 297.3 L738.7 295.9 L740.1 294.5 L741.5 293.0 L742.8 291.6 L744.2 290.1 L745.6 288.6 L746.9 287.1 L748.2 285.6 L749.5 284.1 L750.7 282.5 L752.0 281.0 L753.2 279.4 L754.4 277.8 L755.7 276.2 L756.9 274.6 L758.1 273.0 L759.3 271.4 L760.5 269.8 L761.7 268.2 L762.9 266.6 L764.1 265.0 L765.3 263.4 L766.5 261.8 L767.7 260.2 L768.9 258.6 L770.2 257.1 L771.4 255.5 L772.6 253.9 L773.8 252.3 L775.1 250.7 L776.3 249.2 L777.6 247.6 L778.9 246.1 L780.2 244.6 L781.5 243.1 L782.9 241.6 L784.2 240.1 L785.5 238.6 L786.8 237.0 L788.0 235.5 L789.3 233.9 L790.4 232.3 L791.6 230.6 L792.8 229.0 L793.9 227.4 L795.0 225.7 L796.2 224.1 L797.3 222.4 L798.5 220.8 L799.7 219.2 L800.9 217.6 L802.1 216.0 L803.4 214.5 L804.7 213.0 L806.0 211.5 L807.4 210.0 L808.7 208.5 L810.0 207.0 L811.3 205.5 L812.6 203.9 L813.9 202.4 L815.2 200.8 L816.4 199.3 L817.6 197.7 L818.8 196.1 L820.0 194.5 L821.2 192.8 L822.4 191.2 L823.5 189.6 L824.7 188.0 L825.9 186.4 L827.1 184.8 L828.3 183.2 L829.5 181.6 L830.7 180.0 L832.0 178.4 L833.2 176.8 L834.4 175.2 L835.7 173.7 L836.9 172.1 L838.2 170.6 L839.5 169.0 L840.7 167.4 L842.0 165.9 L843.3 164.4 L844.6 162.8 L845.9 161.3 L847.2 159.8 L848.5 158.3 L849.8 156.8 L851.1 155.2 L852.4 153.7 L853.6 152.1 L854.8 150.5 L856.1 149.0 L857.3 147.4 L858.5 145.7 L859.6 144.1 L860.8 142.5 L862.0 140.9 L863.2 139.3 L864.3 137.7 L865.5 136.0 L866.7 134.4 L867.9 132.8 L869.1 131.2 L870.3 129.6 L871.5 128.0 L872.7 126.4 L873.9 124.8 L875.1 123.2 L876.4 121.7 L877.7 120.1 L879.0 118.6 L880.3 117.1 L881.6 115.5 L882.9 114.0 L884.2 112.5 L885.6 111.1 L886.9 109.6 L888.3 108.1 L889.6 106.6 L891.0 105.2 L892.4 103.7 L893.8 102.3 L895.1 100.8 L896.5 99.4 L897.9 97.9 L899.3 96.5 L900.7 95.1 L902.1 93.7 L903.6 92.2 L905.0 90.8 L906.4 89.4 L907.9 88.1 L909.3 86.7 L910.8 85.3 L912.2 83.9 L913.7 82.6 L915.2 81.2 L916.6 79.9 L918.1 78.5 L919.6 77.2 L921.1 75.9 L922.6 74.5 L924.2 73.2 L925.7 72.0 L927.2 70.7 L928.8 69.5 L930.4 68.2 L932.0 67.0 L933.5 65.8 L935.1 64.6 L936.8 63.4 L938.4 62.2 L940.1 61.1 L941.7 60.0 L943.4 59.0 L945.2 58.0 L946.9 57.0 L948.7 56.1 L950.5 55.2 L952.3 54.3 L954.1 53.4 L955.9 52.6 L957.8 51.8 L959.6 51.1 L961.5 50.4 L963.4 49.7 L965.3 49.2 L967.2 48.7 L969.2 48.4 L971.2 48.2 L973.2 48.1 L975.2 48.2 L977.1 48.5 L979.1 48.9 L981.0 49.4 L982.9 50.1 L984.7 50.9 L986.4 51.8 L988.2 52.9 L989.8 54.0 L991.4 55.2 L992.9 56.5 L994.4 57.9 L995.7 59.3 L997.1 60.8 L998.3 62.4 L999.4 64.0 L1000.4 65.8 L1001.4 67.5 L1002.2 69.3 L1002.9 71.2 L1003.6 73.1 L1004.2 75.0 L1004.8 76.9 L1005.3 78.8 L1005.7 80.8 L1006.1 82.7 L1006.5 84.7 L1006.8 86.7 L1007.0 88.7 L1007.2 90.7 L1007.4 92.7 L1007.6 94.7 L1007.8 96.7 L1007.9 98.6 L1008.1 100.6 L1008.2 102.6 L1008.4 104.6 L1008.6 106.6 L1008.8 108.6 L1009.0 110.6 L1009.1 112.6 L1009.3 114.6 L1009.5 116.6 L1009.7 118.6 L1009.9 120.6 L1010.1 122.6 L1010.2 124.6 L1010.4 126.6 L1010.6 128.6 L1010.8 130.6 L1010.9 132.6 L1011.1 134.6 L1011.3 136.5 L1011.4 138.5 L1011.6 140.5 L1011.8 142.5 L1011.9 144.5 L1012.1 146.5 L1012.3 148.5 L1012.4 150.5 L1012.6 152.5 L1012.8 154.5 L1012.9 156.5 L1013.1 158.5 L1013.2 160.5 L1013.4 162.5 L1013.6 164.5 L1013.7 166.5 L1013.9 168.5 L1014.0 170.5 L1014.2 172.5 L1014.3 174.5 L1014.5 176.5 L1014.7 178.5 L1014.8 180.5 L1015.0 182.5 L1015.1 184.5 L1015.3 186.4 L1015.4 188.4 L1015.6 190.4 L1015.7 192.4 L1015.9 194.4 L1016.0 196.4 L1016.2 198.4 L1016.3 200.4 L1016.5 202.4 L1016.6 204.4 L1016.7 206.4 L1016.9 208.4 L1017.0 210.4 L1017.2 212.4 L1017.3 214.4 L1017.4 216.4 L1017.6 218.4 L1017.7 220.4 L1017.8 222.4 L1018.0 224.4 L1018.1 226.4 L1018.3 228.4 L1018.4 230.4 L1018.5 232.4 L1018.7 234.4 L1018.8 236.4 L1019.0 238.4 L1019.1 240.4 L1019.3 242.4 L1019.4 244.4 L1019.6 246.4 L1019.7 248.4 L1019.9 250.4 L1020.1 252.4 L1020.2 254.4 L1020.4 256.3 L1020.6 258.3 L1020.8 260.3 L1020.9 262.3 L1021.1 264.3 L1021.3 266.3 L1021.5 268.3 L1021.7 270.3 L1021.9 272.3 L1022.1 274.3 L1022.3 276.3 L1022.5 278.3 L1022.8 280.3 L1023.0 282.2 L1023.3 284.2 L1023.6 286.2 L1024.0 288.2 L1024.3 290.1 L1024.7 292.1 L1025.1 294.1 L1025.5 296.0 L1025.9 298.0 L1026.4 299.9 L1026.8 301.9 L1027.3 303.8 L1027.9 305.8 L1028.4 307.7 L1029.0 309.6 L1029.7 311.5 L1030.3 313.4 L1031.0 315.3 L1031.8 317.1 L1032.5 319.0 L1033.4 320.8 L1034.3 322.5 L1035.4 324.2 L1036.6 325.8 L1037.9 327.3 L1039.4 328.6 L1040.9 329.8 L1042.6 330.9 L1044.4 331.8 L1046.2 332.6 L1048.1 333.3 L1050.0 333.8 L1051.9 334.2 L1053.9 334.5 L1055.9 334.8 L1057.9 334.9 L1059.9 335.0 L1061.9 335.1 L1063.9 335.1 L1065.9 335.1 L1067.9 335.1 L1069.9 335.1 L1071.9 335.1 L1073.9 335.0 L1075.9 335.0 L1077.9 334.9 L1079.9 334.9 L1081.9 334.9 L1083.9 334.8 L1085.9 334.8 L1087.9 334.8 L1089.9 334.8 L1091.9 334.8 L1093.9 334.8 L1095.9 334.9 L1097.9 334.9 L1099.9 334.9 L1101.9 334.9 L1103.9 334.9 L1105.9 334.9 L1108.0 334.9 L1110.0 334.9 L1112.0 334.9 L1114.0 334.9 L1116.0 334.9 L1118.0 334.9 L1120.0 334.9 L1122.0 334.9 L1124.0 334.9 L1126.0 334.9 L1128.0 334.9 L1130.0 334.8 L1132.0 334.8 L1134.0 334.8 L1136.0 334.8 L1138.0 334.8 L1140.0 334.8 L1142.0 334.8 L1144.0 334.8 L1146.0 334.8 L1147.0 334.8" stroke="#12a24b" stroke-width="5" stroke-dasharray="8 13.7"/>
<path d="M1250.0 330.5 L1248.0 330.7 L1246.0 330.9 L1244.0 331.1 L1242.0 331.3 L1240.0 331.5 L1238.0 331.7 L1236.0 331.9 L1233.9 332.1 L1231.9 332.3 L1229.9 332.5 L1227.9 332.7 L1225.9 332.9 L1223.9 333.1 L1221.9 333.3 L1219.9 333.4 L1217.9 333.5 L1215.9 333.6 L1213.9 333.7 L1211.8 333.9 L1209.8 334.0 L1207.8 334.2 L1205.8 334.5 L1203.8 334.8 L1201.9 335.3 L1199.9 335.9 L1198.0 336.5 L1196.2 337.3 L1194.3 338.0 L1192.4 338.7 L1190.5 339.4 L1188.5 339.9 L1186.6 340.3 L1184.6 340.7 L1182.6 341.1 L1180.6 341.4 L1178.6 341.6 L1176.6 341.8 L1174.6 342.0 L1172.6 342.2 L1170.6 342.3 L1168.6 342.4 L1166.6 342.5 L1164.5 342.5 L1162.5 342.6 L1160.5 342.6 L1158.5 342.6 L1156.5 342.7 L1154.5 342.7 L1152.4 342.7 L1150.4 342.7 L1148.4 342.7 L1146.4 342.7 L1144.4 342.7 L1142.4 342.7 L1140.3 342.7 L1138.3 342.7 L1136.3 342.7 L1134.3 342.7 L1132.3 342.6 L1130.3 342.6 L1128.2 342.6 L1126.2 342.6 L1124.2 342.6 L1122.2 342.6 L1120.2 342.6 L1118.2 342.5 L1116.1 342.5 L1114.1 342.5 L1112.1 342.5 L1110.1 342.5 L1108.1 342.5 L1106.1 342.5 L1104.0 342.5 L1102.0 342.5 L1100.0 342.5 L1098.0 342.5 M998.0 342.8 L996.0 342.8 L994.0 342.8 L992.0 342.8 L990.0 342.8 L988.0 342.9 L986.0 342.9 L984.0 342.9 L982.0 342.9 L980.0 342.9 L978.0 342.9 L976.0 342.9 L974.0 342.9 L972.0 343.0 L970.0 343.0 L968.0 343.0 L966.0 343.0 L964.0 343.0 L962.0 343.0 L960.0 343.0 L958.0 343.0 L956.0 343.1 L954.0 343.1 L952.0 343.1 L950.0 343.1 L948.0 343.1 L946.0 343.1 L943.9 343.1 L941.9 343.1 L939.9 343.2 L937.9 343.2 L935.9 343.2 L933.9 343.2 L931.9 343.2 L929.9 343.2 L927.9 343.2 L925.9 343.2 L923.9 343.3 L921.9 343.3 L919.9 343.3 L917.9 343.3 L915.9 343.3 L913.9 343.3 L911.9 343.3 L909.9 343.3 L907.9 343.4 L905.9 343.4 L903.9 343.4 L901.9 343.4 L899.9 343.4 L897.9 343.4 L895.9 343.4 L893.9 343.4 L891.9 343.5 L889.9 343.5 L887.9 343.5 L885.9 343.5 L883.9 343.5 L881.9 343.5 L879.9 343.5 L877.9 343.5 L875.9 343.6 L873.9 343.6 L871.9 343.6 L869.9 343.6 L867.9 343.6 L865.9 343.6 L863.9 343.6 L861.9 343.6 L859.9 343.7 L857.9 343.7 L855.9 343.7 L853.9 343.7 L851.9 343.7 L849.9 343.7 L847.9 343.7 L845.9 343.7 L843.9 343.7 L841.9 343.8 L839.9 343.8 L837.8 343.8 L835.8 343.8 L833.8 343.8 L831.8 343.8 L829.8 343.8 L827.8 343.8 L825.8 343.9 L823.8 343.9 L821.8 343.9 L819.8 343.9 L817.8 343.9 L815.8 343.9 L813.8 343.9 L811.8 343.9 L809.8 343.9 L807.8 344.0 L805.8 344.0 L803.8 344.0 L801.8 344.0 L799.8 344.0 L797.8 344.0 L795.8 344.0 L793.8 344.0 L791.8 344.0 L789.8 344.1 L787.8 344.1 L785.8 344.1 L783.8 344.1 L781.8 344.1 L779.8 344.1 L777.8 344.1 L775.8 344.1 L773.8 344.1 L771.8 344.1 L769.8 344.1 L767.8 344.2 L765.8 344.2 L763.8 344.2 L761.8 344.2 L759.8 344.2 L757.8 344.2 L755.8 344.2 L753.8 344.2 L751.8 344.2 L749.8 344.2 L747.8 344.2 L745.8 344.2 L743.8 344.2 L741.8 344.2 L739.8 344.3 L737.8 344.3 L735.8 344.3 L733.7 344.3 L731.7 344.3 L729.7 344.3 L727.7 344.3 L725.7 344.3 L723.7 344.3 L721.7 344.3 L719.7 344.3 L717.7 344.3 L715.7 344.3 L713.7 344.3 L711.7 344.3 L709.7 344.4 L707.7 344.4 L705.7 344.4 L703.7 344.4 L701.7 344.4 L699.7 344.4 L697.7 344.4 L695.7 344.4 L693.7 344.4 L691.7 344.4 L689.7 344.4 L687.7 344.4 L685.7 344.4 L683.7 344.5 L681.7 344.5 L679.7 344.5 L677.7 344.5 L675.7 344.5 L673.7 344.5 L671.7 344.5 L669.7 344.5 L667.7 344.5 L665.7 344.5 L663.7 344.5 L661.7 344.5 L659.7 344.6 L657.7 344.6 L655.7 344.6 L653.7 344.6 L651.7 344.6 L649.7 344.6 L647.7 344.6 L645.7 344.6 L643.7 344.6 L641.7 344.7 L639.7 344.7 L637.7 344.7 L635.7 344.7 L633.7 344.7 L631.7 344.7 L629.7 344.7 L627.6 344.8 L625.6 344.8 L623.6 344.8 L621.6 344.8 L619.6 344.8 L617.6 344.8 L615.6 344.8 L613.6 344.9 L611.6 344.9 L609.6 344.9 L607.6 344.9 L605.6 344.9 L603.6 345.0 L601.6 345.0 L599.6 345.0 L597.6 345.0 L595.6 345.1 L593.6 345.1 L591.6 345.1 L589.6 345.1 L587.6 345.2 L585.6 345.2 L583.6 345.2 L581.6 345.2 L579.6 345.3 L577.6 345.3 L575.6 345.3 L573.6 345.4 L571.6 345.4 L569.6 345.4 L567.6 345.4 L565.6 345.5 L563.6 345.5 L561.6 345.6 L559.6 345.6 L557.6 345.6 L555.6 345.7 L553.6 345.7 L551.6 345.7 L549.6 345.8 L547.6 345.8 L545.6 345.8 L543.6 345.9 L541.6 345.9 L539.6 346.0 L537.6 346.0 L535.6 346.0 L533.6 346.1 L531.6 346.1 L529.6 346.1 L527.6 346.2 L525.6 346.2 L523.6 346.3 L521.6 346.3 L519.6 346.3 L517.6 346.4 L515.6 346.4 L513.6 346.4 L511.6 346.5 L509.5 346.5 L507.5 346.6 L505.5 346.6 L503.5 346.6 L501.5 346.7 L499.5 346.7 L497.5 346.7 L495.5 346.8 L493.5 346.8 L491.5 346.8 L489.5 346.9 L487.5 346.9 L485.5 346.9 L483.5 347.0 L481.5 347.0 L479.5 347.0 L477.5 347.0 L475.5 347.0 L473.5 347.0 L471.5 347.0 L469.5 347.0 L467.5 347.0 L465.5 347.0 L463.5 347.0 L461.5 347.0 L459.5 347.0 L457.5 347.0 L455.5 347.0 L453.5 346.9 L451.5 346.9 L449.5 346.9 L447.5 346.9 L445.5 346.9 L443.5 346.9 L441.5 346.9 L439.5 346.9 L437.5 346.9 L435.5 346.9 L433.5 346.9 L431.5 347.0 L429.5 347.0 L427.5 347.1 L425.5 347.2 L423.5 347.3 L421.5 347.4 L419.5 347.6 L417.5 347.8 L415.5 348.0 L413.5 348.2 L411.5 348.5 L409.5 348.7 L407.6 349.1 L405.6 349.4 L403.6 349.7 L401.7 350.1 L399.7 350.4 L397.7 350.8 L395.7 351.2 L393.8 351.5 L391.8 351.9 L389.8 352.2 L387.9 352.6 L385.9 352.9 L383.9 353.3 L382.0 353.6 L380.0 354.0 L378.0 354.4 L376.0 354.7 L374.1 355.1 L372.1 355.5 L370.2 355.9 L368.2 356.3 L366.2 356.7 L364.3 357.1 L362.3 357.6 L360.4 358.0 L358.4 358.5 L356.5 359.0 L354.6 359.5 L352.6 360.0 L350.7 360.5 L348.8 361.1 L346.8 361.6 L344.9 362.2 L343.0 362.8 L341.1 363.4 L339.2 364.0 L337.3 364.6 L335.4 365.3 L333.5 366.0 L331.7 366.7 L329.8 367.5 L328.0 368.2 L326.1 369.1 L324.3 369.9 L322.5 370.8 L320.8 371.8 L319.0 372.7 L317.3 373.7 L315.6 374.8 L313.9 375.8 L312.2 376.9 L310.6 378.1 L308.9 379.2 L307.3 380.4 L305.7 381.6 L304.1 382.8 L302.6 384.1 L301.1 385.4 L299.5 386.7 L298.0 388.0 L296.6 389.4 L295.1 390.7 L293.6 392.1 L292.2 393.5 L290.8 394.9 L289.3 396.3 L287.9 397.7 L286.5 399.1 L285.1 400.6 L283.7 402.0 L282.3 403.5 L281.0 404.9 L279.6 406.4 L278.3 407.9 L277.0 409.4 L275.6 410.9 L274.3 412.4 L273.0 413.9 L271.7 415.4 L270.4 416.9 L269.0 418.4 L267.7 419.9 L266.4 421.4 L265.1 423.0 L263.8 424.5 L262.5 426.0 L261.2 427.5 L259.9 429.1 L258.6 430.6 L257.3 432.1 L256.1 433.7 L254.8 435.2 L253.5 436.7 L252.2 438.3 L251.0 439.8 L249.7 441.4 L248.5 443.0 L247.3 444.6 L246.0 446.1 L244.8 447.8 L243.7 449.4 L242.5 451.0 L241.3 452.6 L240.0 454.2 L238.8 455.7 L237.5 457.2 L236.2 458.7 L234.8 460.2 L233.3 461.5 L231.8 462.8 L230.2 464.0 L228.6 465.2 L226.9 466.3 L225.3 467.5 L223.7 468.7 L222.2 470.0 L220.7 471.3 L219.2 472.7 L217.8 474.0 L216.4 475.5 L215.0 476.9 L213.6 478.4 L212.2 479.8 L210.9 481.3 L209.5 482.8 L208.2 484.3 L206.8 485.7 L205.5 487.2 L204.2 488.7 L202.9 490.3 L201.5 491.8 L200.2 493.3 L198.9 494.8 L197.6 496.3 L196.3 497.8 L195.0 499.3 L193.7 500.9 L192.4 502.4 L191.2 503.9 L189.9 505.5 L188.6 507.0 L187.4 508.6 L186.1 510.2 L184.9 511.7 L183.6 513.3 L182.4 514.9 L181.2 516.5 L180.0 518.1 L178.8 519.7 L177.6 521.3 L176.4 522.9 L175.3 524.6 L174.2 526.2 L173.0 527.9 L171.9 529.5 L170.8 531.2 L169.7 532.9 L168.6 534.6 L167.5 536.2 L166.5 537.9 L165.4 539.6 L164.3 541.3 L163.3 543.0 L162.2 544.7 L161.2 546.4 L160.2 548.2 L159.1 549.9 L158.1 551.6 L157.1 553.3 L156.1 555.0 L155.0 556.7 L154.0 558.5 L153.0 560.2 L152.0 561.9 L151.0 563.7 L150.0 565.4 L149.0 567.1 L148.0 568.9 L147.1 570.6 L146.1 572.4 L145.1 574.2 L144.2 575.9 L143.2 577.7 L142.3 579.4 L141.3 581.2 L140.4 583.0 L139.4 584.7 L138.5 586.5 L137.5 588.2 L136.6 590.0 L135.7 591.8 L134.8 593.6 L133.8 595.4 L132.9 597.1 L132.0 598.9 L131.1 600.7 L130.3 602.5 L129.4 604.3 L128.5 606.1 L127.7 607.9 L126.8 609.7 L126.0 611.6 L125.2 613.4 L124.3 615.2 L123.5 617.0 L122.7 618.9 L121.9 620.7 L121.1 622.6 L120.3 624.4 L119.6 626.2 L118.8 628.1 L118.0 629.9 L117.3 631.8 L116.5 633.6 L115.8 635.5 L115.0 637.4 L114.3 639.2 L113.6 641.1 L112.9 643.0 L112.2 644.9 L111.5 646.7 L110.9 648.6 L110.2 650.5 L109.5 652.4 L108.9 654.3 L108.2 656.2 L107.6 658.1 L106.9 660.0 L106.3 661.9 L105.7 663.8 L105.1 665.7 L104.4 667.6 L103.8 669.5 L103.2 671.4 L102.6 673.3 L102.1 675.2 L101.5 677.1 L100.9 679.1 L100.3 681.0 L99.7 682.9 L99.2 684.8 L98.6 686.7 L98.0 688.6 L97.5 690.6 L96.9 692.5 L96.3 694.4 M96.3 694.4 L97.7 693.0 L99.2 691.6 L100.6 690.2 L102.1 688.8 L103.5 687.4 L104.9 686.0 L106.4 684.6 L107.8 683.2 L109.2 681.8 L110.7 680.5 L112.1 679.1 L113.6 677.7 L115.0 676.3 L116.5 674.9 L117.9 673.6 L119.4 672.2 L120.9 670.9 L122.4 669.6 L124.0 668.3 L125.5 667.0 L127.0 665.7 L128.4 664.3 L129.7 662.9 L131.0 661.4 L132.3 659.8 L133.5 658.2 L134.7 656.6 L135.9 655.0 L137.0 653.4 L138.1 651.7 L139.3 650.1 L140.4 648.4 L141.5 646.7 L142.6 645.1 L143.7 643.4 L144.8 641.7 L145.8 640.0 L146.9 638.3 L148.0 636.6 L149.0 634.9 L150.1 633.2 L151.1 631.5 L152.2 629.8 L153.2 628.1 L154.3 626.4 L155.3 624.7 L156.4 623.0 L157.5 621.3 L158.6 619.6 L159.7 618.0 L160.8 616.3 L161.9 614.7 L163.1 613.0 L164.2 611.4 L165.4 609.7 L166.5 608.1 L167.7 606.5 L168.8 604.8 L170.0 603.2 L171.1 601.6 L172.3 599.9 L173.4 598.3 L174.6 596.6 L175.7 595.0 L176.9 593.3 L178.0 591.7 L179.1 590.0 L180.2 588.4 L181.3 586.7 L182.4 585.0 L183.5 583.3 L184.6 581.7 L185.7 580.0 L186.7 578.3 L187.8 576.6 L188.8 574.9 L189.9 573.2 L190.9 571.4 L192.0 569.7 L193.0 568.0 L194.0 566.3 L195.1 564.6 L196.1 562.9 L197.1 561.1 L198.1 559.4 L199.2 557.7 L200.2 556.0 L201.2 554.3 L202.2 552.5 L203.2 550.8 L204.2 549.1 L205.3 547.4 L206.3 545.6 L207.3 543.9 L208.3 542.2 L209.3 540.4 L210.3 538.7 L211.4 537.0 L212.4 535.3 L213.4 533.6 L214.4 531.8 L215.4 530.1 L216.5 528.4 L217.5 526.7 L218.5 524.9 L219.5 523.2 L220.5 521.5 L221.5 519.8 L222.5 518.0 L223.5 516.3 L224.5 514.6 L225.6 512.8 L226.6 511.1 L227.6 509.4 L228.6 507.6 L229.6 505.9 L230.6 504.2 L231.6 502.5 L232.7 500.7 L233.7 499.0 L234.7 497.3 L235.7 495.6 L236.8 493.9 L237.8 492.2 L238.8 490.5 L239.9 488.7 L241.0 487.1 L242.0 485.4 L243.1 483.7 L244.2 482.0 L245.3 480.3 L246.4 478.6 L247.5 477.0 L248.6 475.3 L249.7 473.6 L250.8 472.0 L251.9 470.3 L253.0 468.6 L254.1 466.9 L255.2 465.3 L256.3 463.6 L257.4 461.9 L258.4 460.2 L259.5 458.5 L260.5 456.8 L261.5 455.0 L262.5 453.3 L263.5 451.6 L264.5 449.8 L265.5 448.1 L266.5 446.4 L267.5 444.6 L268.4 442.9 L269.4 441.1 L270.4 439.4 L271.4 437.7 L272.5 435.9 L273.5 434.2 L274.5 432.5 L275.6 430.8 L276.7 429.1 L277.8 427.5 L278.9 425.8 L280.0 424.2 L281.2 422.5 L282.4 420.9 L283.6 419.3 L284.7 417.7 L286.0 416.1 L287.2 414.5 L288.4 412.9 L289.7 411.4 L290.9 409.8 L292.2 408.2 L293.4 406.7 L294.7 405.1 L296.0 403.6 L297.3 402.1 L298.5 400.5 L299.8 399.0 L301.1 397.4 L302.4 395.9 L303.6 394.4 L304.9 392.8 L306.2 391.3 L307.6 389.8 L308.9 388.3 L310.3 386.9 L311.7 385.4 L313.1 384.0 L314.6 382.7 L316.1 381.4 L317.6 380.1 L319.2 378.9 L320.8 377.7 L322.5 376.6 L324.2 375.5 L325.9 374.5 L327.6 373.5 L329.3 372.5 L331.1 371.5 L332.9 370.6 L334.7 369.7 L336.5 368.8 L338.3 368.0 L340.1 367.1 L341.9 366.3 L343.7 365.4 L345.5 364.6 L347.4 363.8 L349.2 363.0 L351.1 362.3 L352.9 361.6 L354.8 360.8 L356.7 360.1 L358.6 359.5 L360.5 358.8 L362.4 358.2 L364.3 357.6 L366.2 357.1 L368.1 356.5 L370.1 356.0 L372.0 355.6 L374.0 355.1 L375.9 354.7 L377.9 354.3 L379.9 354.0 L381.8 353.6 L383.8 353.3 L385.8 352.9 L387.7 352.6 L389.7 352.2 L391.7 351.9 L393.6 351.5 L395.6 351.1 L397.6 350.8 L399.5 350.4 L401.5 350.0 L403.5 349.6 L405.4 349.2 L407.4 348.8 L409.4 348.4 L411.3 348.0 L413.3 347.7 L415.3 347.3 L417.2 347.0 L419.2 346.7 L421.2 346.4 L423.2 346.1 L425.2 345.8 L427.1 345.6 L429.1 345.3 L431.1 345.1 L433.1 344.9 L435.1 344.7 L437.1 344.5 L439.1 344.3 L441.1 344.0 L443.1 343.8 L445.1 343.6 L447.0 343.3 L449.0 343.1 L451.0 342.8 L453.0 342.5 L455.0 342.3 L457.0 342.0 L458.9 341.6 L460.9 341.3 L462.9 341.0 L464.9 340.7 L466.8 340.4 L468.8 340.1 L470.8 339.7 L472.8 339.4 L474.8 339.1 L476.7 338.8 L478.7 338.5 L480.7 338.2 L482.7 338.0 L484.7 337.7 L486.6 337.5 L488.6 337.2 L490.6 337.0 L492.6 336.8 L494.6 336.5 L496.6 336.3 L498.6 336.1 L500.6 335.8 L502.6 335.6 L504.5 335.3 L506.5 335.1 L508.5 334.8 L510.5 334.6 L512.5 334.3 L514.5 334.0 L516.5 333.8 L518.4 333.5 L520.4 333.2 L522.4 332.9 L524.4 332.5 L526.3 332.2 L528.3 331.8 L530.3 331.5 L532.2 331.1 L534.2 330.6 L536.1 330.2 L538.1 329.8 L540.0 329.3 L542.0 328.8 L543.9 328.4 L545.9 327.9 L547.8 327.4 L549.8 326.9 L551.7 326.3 L553.6 325.8 L555.5 325.3 L557.5 324.7 L559.4 324.1 L561.3 323.5 L563.2 322.9 L565.1 322.3 L567.0 321.7 L568.9 321.0 L570.8 320.3 L572.6 319.6 L574.5 318.9 L576.3 318.1 L578.2 317.3 L580.0 316.5 L581.8 315.6 L583.6 314.7 L585.4 313.8 L587.1 312.8 L588.8 311.8 L590.5 310.7 L592.2 309.7 L593.9 308.6 L595.5 307.4 L597.2 306.3 L598.8 305.1 L600.4 303.9 L601.9 302.6 L603.5 301.4 L605.1 300.2 L606.6 298.9 L608.2 297.6 L609.7 296.3 L611.2 295.0 L612.7 293.7 L614.2 292.4 L615.7 291.0 L617.2 289.7 L618.6 288.3 L620.0 286.9 L621.5 285.5 L622.9 284.0 L624.3 282.6 L625.6 281.1 L627.0 279.7 L628.3 278.2 L629.6 276.7 L630.9 275.1 L632.2 273.6 L633.4 272.0 L634.6 270.4 L635.8 268.8 L636.9 267.2 L638.1 265.5 L639.2 263.8 L640.2 262.1 L641.3 260.4 L642.4 258.7 L643.4 257.0 L644.5 255.3 L645.5 253.6 L646.5 251.9 L647.5 250.2 L648.5 248.4 L649.5 246.7 L650.5 245.0 L651.5 243.2 L652.5 241.5 L653.5 239.8 L654.6 238.0 L655.6 236.3 L656.6 234.6 L657.6 232.9 L658.6 231.1 L659.6 229.4 L660.5 227.6 L661.5 225.9 L662.4 224.1 L663.3 222.3 L664.3 220.5 L665.2 218.8 L666.1 217.0 L667.0 215.2 L667.9 213.4 L668.8 211.6 L669.8 209.9 L670.7 208.1 L671.7 206.3 L672.7 204.6 L673.6 202.9 L674.7 201.1 L675.7 199.4 L676.7 197.7 L677.8 196.0 L678.8 194.3 L679.9 192.6 L680.9 190.9 L682.0 189.2 L683.1 187.5 L684.2 185.8 L685.2 184.1 L686.3 182.4 L687.4 180.8 L688.5 179.1 L689.6 177.4 L690.7 175.7 L691.8 174.1 L692.9 172.4 L694.0 170.7 L695.1 169.1 L696.3 167.4 L697.4 165.8 L698.5 164.1 L699.7 162.5 L700.8 160.8 L702.0 159.2 L703.1 157.6 L704.3 155.9 L705.4 154.3 L706.6 152.7 L707.8 151.0 L708.9 149.4 L710.1 147.8 L711.3 146.2 L712.5 144.6 L713.7 143.0 L714.9 141.3 L716.1 139.7 L717.3 138.1 L718.5 136.5 L719.7 134.9 L720.9 133.3 L722.1 131.8 L723.3 130.2 L724.5 128.6 L725.8 127.0 L727.0 125.4 L728.2 123.8 L729.4 122.2 L730.7 120.7 L731.9 119.1 L733.2 117.5 L734.4 115.9 L735.6 114.4 L736.9 112.8 L738.1 111.3 L739.4 109.7 L740.6 108.1 L741.9 106.6 L743.2 105.0 L744.4 103.5 L745.7 101.9 L747.0 100.4 L748.3 98.8 L749.5 97.3 L750.8 95.7 L752.1 94.2 L753.4 92.7 L754.7 91.1 L755.9 89.6 L757.2 88.1 L758.5 86.5 L759.8 85.0 L761.1 83.5 L762.4 82.0 L763.7 80.5 L765.0 78.9 L766.3 77.4 L767.7 75.9 L769.0 74.4 L770.3 72.9 L771.6 71.4 L773.0 69.9 L774.3 68.4 L775.6 66.9 L776.9 65.4 L778.3 63.9 L779.6 62.4 L781.0 61.0 L782.4 59.6 L783.8 58.2 L785.3 56.8 L786.8 55.5 L788.4 54.3 L790.0 53.1 L791.6 52.0 L793.3 51.1 L795.0 50.3 L796.8 49.7 L798.5 49.5 L800.2 49.6 L801.7 50.0 L803.2 50.8 L804.7 51.9 L806.2 53.0 L807.7 54.2 L809.3 55.4 L810.9 56.5 L812.5 57.6 L814.2 58.7 L815.9 59.8 L817.5 60.9 L819.1 62.1 L820.7 63.4 L822.2 64.7 L823.6 66.0 L825.0 67.5 L826.3 69.0 L827.4 70.6 L828.6 72.2 L829.6 73.9 L830.5 75.7 L831.5 77.4 L832.3 79.2 L833.1 81.1 L833.9 82.9 L834.7 84.7 L835.4 86.6 L836.1 88.5 L836.8 90.4 L837.5 92.3 L838.1 94.1 L838.7 96.1 L839.3 98.0 L839.9 99.9 L840.5 101.8 L841.0 103.7 L841.6 105.7 L842.1 107.6 L842.6 109.5 L843.2 111.4 L843.7 113.4 L844.2 115.3 L844.8 117.2 L845.3 119.2 L845.8 121.1 L846.3 123.0 L846.8 125.0 L847.3 126.9 L847.8 128.8 L848.3 130.8 L848.8 132.7 L849.3 134.7 L849.7 136.6 L850.2 138.6 L850.6 140.5 L851.0 142.5 L851.4 144.5 L851.8 146.4 L852.2 148.4 L852.6 150.3 L852.9 152.3 L853.3 154.3 L853.6 156.3 L853.9 158.2 L854.2 160.2 L854.6 162.2 L854.9 164.2 L855.2 166.2 L855.5 168.1 L855.8 170.1 L856.1 172.1 L856.4 174.1 L856.7 176.0 L857.0 178.0 L857.3 180.0 L857.6 182.0 L857.9 184.0 L858.2 185.9 L858.5 187.9 L858.8 189.9 L859.1 191.9 L859.4 193.9 L859.6 195.9 L859.9 197.8 L860.2 199.8 L860.5 201.8 L860.8 203.8 L861.1 205.8 L861.3 207.7 L861.6 209.7 L861.9 211.7 L862.2 213.7 L862.5 215.7 L862.8 217.6 L863.1 219.6 L863.4 221.6 L863.7 223.6 L864.0 225.6 L864.3 227.5 L864.7 229.5 L865.0 231.5 L865.3 233.5 L865.6 235.5 L865.9 237.4 L866.2 239.4 L866.5 241.4 L866.7 243.4 L867.0 245.4 L867.3 247.3 L867.6 249.3 L867.8 251.3 L868.1 253.3 L868.4 255.3 L868.7 257.2 L869.1 259.2 L869.5 261.2 L869.9 263.1 L870.3 265.1 L870.8 267.0 L871.4 268.9 L872.0 270.9 L872.6 272.8 L873.2 274.6 L873.9 276.5 L874.7 278.4 L875.5 280.2 L876.3 282.0 L877.2 283.8 L878.1 285.6 L879.0 287.4 L880.0 289.1 L881.0 290.9 L882.0 292.6 L883.0 294.3 L884.1 296.0 L885.3 297.6 L886.5 299.2 L887.7 300.8 L889.0 302.3 L890.4 303.7 L891.8 305.1 L893.3 306.5 L894.8 307.7 L896.4 308.9 L898.0 310.0 L899.7 311.1 L901.5 312.1 L903.2 313.0 L905.0 313.8 L906.9 314.6 L908.7 315.3 L910.6 316.0 L912.5 316.7 L914.4 317.2 L916.3 317.8 L918.3 318.3 L920.2 318.8 L922.2 319.2 L924.1 319.7 L926.1 320.1 L928.0 320.5 L930.0 320.9 L932.0 321.2 L933.9 321.6 L935.9 321.9 L937.9 322.2 L939.9 322.5 L941.8 322.8 L943.8 323.1 L945.8 323.3 L947.8 323.5 L949.8 323.8 L951.8 324.0 L953.8 324.2 L955.8 324.3 L957.8 324.5 L959.8 324.7 L961.8 324.8 L963.8 324.9 L965.8 325.1 L967.8 325.2 L969.8 325.3 L971.8 325.4 L973.8 325.6 L975.8 325.7 L977.8 325.8 L979.8 325.9 L981.8 326.0 L983.8 326.0 L985.8 326.1 L987.8 326.2 L989.8 326.3 L991.8 326.4 L993.8 326.5 L995.8 326.5 L997.8 326.6 L999.8 326.7 L1001.8 326.8 L1003.8 326.8 L1005.8 326.9 L1007.8 327.0 L1009.8 327.0 L1011.8 327.1 L1013.8 327.1 L1015.8 327.2 L1017.8 327.3 L1019.8 327.3 L1021.8 327.4 L1023.8 327.4 L1025.8 327.5 L1027.8 327.5 L1029.8 327.6 L1031.8 327.6 L1033.8 327.7 L1035.8 327.7 L1037.8 327.8 L1039.8 327.8 L1041.8 327.9 L1043.8 327.9 L1045.8 328.0 L1047.8 328.0 L1049.8 328.1 L1051.8 328.1 L1053.8 328.1 L1055.8 328.2 L1057.8 328.2 L1059.8 328.3 L1061.8 328.3 L1063.8 328.4 L1065.8 328.4 L1067.8 328.4 L1069.8 328.5 L1071.8 328.5 L1073.8 328.6 L1075.8 328.6 L1077.8 328.6 L1079.8 328.7 L1081.8 328.7 L1083.8 328.8 L1085.8 328.8 L1087.8 328.8 L1089.8 328.9 L1091.8 328.9 L1093.8 329.0 L1095.8 329.0 L1097.8 329.0 L1099.8 329.1 L1101.8 329.1 L1103.8 329.1 L1105.8 329.2 L1107.8 329.2 L1109.9 329.2 L1111.9 329.3 L1113.9 329.3 L1115.9 329.3 L1117.9 329.4 L1119.9 329.4 L1121.9 329.4 L1123.9 329.5 L1125.9 329.5 L1127.9 329.5 L1129.9 329.6 L1131.9 329.6 L1133.9 329.6 L1135.9 329.6 L1137.9 329.7 L1139.9 329.7 L1141.9 329.7 L1143.9 329.8 L1145.9 329.8 L1147.9 329.8 L1149.9 329.8 L1151.9 329.8 L1153.9 329.9 L1155.9 329.9 L1157.9 329.9 L1159.9 329.9 L1161.9 330.0 L1163.9 330.0 L1165.9 330.0 L1167.9 330.0 L1169.9 330.0 L1171.9 330.0 L1173.9 330.1 L1175.9 330.1 L1177.9 330.1 L1179.9 330.1 L1181.9 330.1 L1183.9 330.1 L1185.9 330.1 L1187.9 330.1 L1189.9 330.1 L1191.9 330.1 L1193.9 330.1 L1195.9 330.1 L1197.9 330.1 L1199.9 330.1 L1201.9 330.1 L1203.9 330.1 L1206.0 330.1 L1208.0 330.1 L1210.0 330.1 L1212.0 330.1 L1214.0 330.1 L1216.0 330.1 L1218.0 330.1 L1220.0 330.1 L1222.0 330.1 L1224.0 330.1 L1226.0 330.1 L1228.0 330.1 L1230.0 330.1 L1232.0 330.1 L1234.0 330.0 L1236.0 330.0 L1238.0 330.0 L1240.0 330.0 L1242.0 330.0 L1244.0 330.0 L1246.0 330.0 L1248.0 330.0 L1250.0 330.0" stroke="#fdb515" stroke-width="5.5"/>
</g>
<g stroke="#000" fill="none" stroke-width="3.4">
<rect x="45" y="4.5" width="1202" height="752.5"/>
<line x1="45" y1="337.7" x2="1247" y2="337.7"/>
<line x1="1095.5" y1="4.5" x2="1095.5" y2="370"/>
<line x1="1095.5" y1="721" x2="1095.5" y2="757"/>
<line x1="245.3" y1="746" x2="245.3" y2="757"/>
<line x1="445.7" y1="746" x2="445.7" y2="757"/>
<line x1="646.0" y1="746" x2="646.0" y2="757"/>
<line x1="846.3" y1="746" x2="846.3" y2="757"/>
<line x1="1046.7" y1="746" x2="1046.7" y2="757"/>
</g>
<rect x="716.8" y="386.8" width="431" height="266" fill="#fff" stroke="#000" stroke-width="3"/>
<g stroke="#000" stroke-width="3">
<line x1="896.3" y1="643.5" x2="896.3" y2="653"/>
<line x1="1076.0" y1="643.5" x2="1076.0" y2="653"/>
</g>
<g fill="none" stroke-linejoin="round" stroke-linecap="round">
<path d="M1076.8 520.6 L1074.8 520.6 L1072.8 520.6 L1070.8 520.6 L1068.8 520.6 L1066.8 520.6 L1064.8 520.6 L1062.7 520.6 L1060.7 520.6 L1058.7 520.6 L1056.7 520.6 L1054.7 520.6 L1052.7 520.6 L1050.7 520.6 L1048.7 520.5 L1046.7 520.5 L1044.7 520.5 L1042.7 520.5 L1040.7 520.5 L1038.7 520.5 L1036.6 520.5 L1034.6 520.5 L1032.6 520.5 L1030.6 520.5 L1028.6 520.5 L1026.6 520.5 L1024.6 520.5 L1022.6 520.5 L1020.6 520.5 L1018.6 520.5 L1016.6 520.5 L1014.6 520.5 L1012.5 520.5 L1010.5 520.5 L1008.5 520.4 L1006.5 520.4 L1004.5 520.4 L1002.5 520.4 L1000.5 520.4 L998.5 520.4 L996.5 520.4 L994.5 520.4 L992.5 520.4 L990.5 520.3 L988.5 520.3 L986.4 520.3 L984.4 520.3 L982.4 520.3 L980.4 520.3 L978.4 520.2 L976.4 520.2 L974.4 520.2 L972.4 520.2 L970.4 520.2 L968.4 520.2 L966.4 520.1 L964.4 520.1 L962.4 520.1 L960.3 520.1 L958.3 520.1 L956.3 520.0 L954.3 520.0 L952.3 520.0 L950.3 520.0 L948.3 520.0 L946.3 519.9 L944.3 519.9 L942.3 519.9 L940.3 519.9 L938.3 519.9 L936.3 519.8 L934.2 519.8 L932.2 519.8 L930.2 519.8 L928.2 519.8 L926.2 519.7 L924.2 519.7 L922.2 519.7 L920.2 519.7 L918.2 519.7 L916.2 519.6 L914.2 519.6 L912.2 519.6 L910.2 519.6 L908.1 519.6 L906.1 519.6 L904.1 519.5 L902.1 519.5 L900.1 519.5 L898.1 519.5 L896.1 519.5 L894.1 519.4 L892.1 519.4 L890.1 519.4 L888.1 519.3 L886.1 519.3 L884.1 519.2 L882.0 519.2 L880.0 519.1 L878.0 519.1 L876.0 519.1 L874.0 519.0 L872.0 519.0 L870.0 519.0 L868.0 519.0 L866.0 519.0 L864.0 519.0 L862.0 519.0 L860.0 519.1 L858.0 519.1 L855.9 519.2 L853.9 519.3 L851.9 519.4 L849.9 519.5 L847.9 519.6 L845.9 519.7 L843.9 519.8 L841.9 519.9 L839.9 520.1 L837.9 520.3 L835.9 520.5 L833.9 520.8 L831.9 521.1 L830.0 521.4 L828.0 521.9 L826.1 522.4 L824.1 522.9 L822.2 523.5 L820.3 524.1 L818.4 524.8 L816.6 525.7 L814.8 526.6 L813.2 527.7 L811.6 528.9 L810.1 530.3 L808.7 531.7 L807.4 533.2 L806.2 534.9 L805.1 536.5 L804.0 538.2 L802.9 539.9 L801.9 541.6 L800.9 543.4 L799.9 545.1 L798.8 546.8 L797.7 548.5 L796.7 550.2 L795.6 551.9 L794.6 553.6 L793.6 555.4 L792.5 557.1 L791.5 558.8 L790.6 560.6 L789.6 562.3 L788.6 564.1 L787.6 565.8 L786.6 567.6 L785.6 569.3 L784.6 571.1 L783.6 572.8 L782.6 574.5 L781.6 576.3 L780.6 578.0 L779.5 579.7 L778.5 581.4 L777.4 583.1 L776.3 584.8 L775.2 586.5 L774.1 588.2 L773.1 589.9 L772.0 591.6 L770.9 593.2 L769.7 594.9 L768.6 596.6 L767.5 598.2 L766.4 599.9 L765.3 601.6 L764.1 603.2 L763.0 604.9 L761.8 606.5 L760.7 608.1 L759.5 609.8 L758.3 611.4 L757.1 613.0 L755.9 614.6 L754.7 616.3 L753.5 617.9 L752.3 619.4 L751.1 621.0 L749.8 622.6 L748.6 624.2 L747.4 625.8 L746.1 627.4 L744.9 628.9 L743.6 630.5 L742.4 632.1 L741.2 633.7 L739.9 635.3 L738.7 636.8 L737.4 638.4 L736.2 640.0 L735.6 640.8 M735.6 640.8 L737.2 639.6 L738.8 638.3 L740.3 637.1 L741.9 635.9 L743.5 634.7 L745.1 633.5 L746.7 632.2 L748.3 631.0 L749.9 629.8 L751.5 628.5 L753.0 627.3 L754.6 626.0 L756.1 624.7 L757.6 623.4 L759.1 622.1 L760.6 620.7 L762.1 619.4 L763.6 618.0 L765.0 616.6 L766.4 615.2 L767.9 613.8 L769.3 612.4 L770.7 611.0 L772.1 609.6 L773.5 608.2 L774.9 606.7 L776.3 605.3 L777.7 603.8 L779.1 602.4 L780.5 601.0 L781.9 599.5 L783.3 598.1 L784.7 596.6 L786.1 595.2 L787.5 593.7 L788.9 592.3 L790.3 590.9 L791.7 589.4 L793.0 588.0 L794.4 586.5 L795.8 585.1 L797.2 583.6 L798.6 582.1 L799.9 580.7 L801.3 579.2 L802.7 577.8 L804.0 576.3 L805.4 574.8 L806.8 573.4 L808.1 571.9 L809.5 570.4 L810.9 569.0 L812.2 567.5 L813.6 566.0 L815.0 564.5 L816.3 563.1 L817.7 561.6 L819.0 560.1 L820.4 558.6 L821.7 557.1 L823.0 555.6 L824.3 554.1 L825.6 552.6 L827.0 551.1 L828.3 549.6 L829.6 548.1 L831.0 546.6 L832.3 545.1 L833.7 543.7 L835.1 542.2 L836.6 540.8 L838.0 539.5 L839.5 538.1 L840.9 536.7 L842.4 535.3 L843.9 534.0 L845.4 532.7 L846.9 531.4 L848.4 530.1 L850.0 528.9 L851.7 527.7 L853.4 526.6 L855.1 525.6 L856.9 524.7 L858.7 523.9 L860.6 523.2 L862.5 522.6 L864.4 522.1 L866.4 521.7 L868.4 521.3 L870.3 521.0 L872.3 520.7 L874.3 520.4 L876.3 520.1 L878.3 519.9 L880.3 519.7 L882.3 519.6 L884.3 519.5 L886.3 519.5 L888.3 519.4 L890.3 519.4 L892.3 519.4 L894.3 519.4 L896.3 519.3 L898.3 519.3 L900.3 519.2 L902.3 519.1 L904.3 519.0 L906.3 518.9 L908.3 518.8 L910.3 518.7 L912.3 518.7 L914.3 518.6 L916.3 518.5 L918.3 518.4 L920.4 518.3 L922.4 518.2 L924.4 518.1 L926.4 518.0 L928.4 517.9 L930.4 517.7 L932.4 517.6 L934.4 517.4 L936.4 517.3 L938.4 517.1 L940.3 516.9 L942.3 516.7 L944.3 516.5 L946.3 516.3 L948.3 516.1 L950.3 515.8 L952.3 515.6 L954.3 515.3 L956.3 515.0 L958.3 514.7 L960.2 514.3 L962.2 513.9 L964.1 513.5 L966.1 513.0 L968.0 512.4 L969.9 511.8 L971.8 511.1 L973.6 510.3 L975.5 509.6 L977.3 508.7 L979.1 507.9 L980.9 507.0 L982.7 506.1 L984.5 505.2 L986.3 504.3 L988.1 503.4 L989.9 502.4 L991.6 501.5 L993.4 500.5 L995.1 499.5 L996.8 498.4 L998.5 497.4 L1000.2 496.3 L1001.9 495.2 L1003.5 494.0 L1005.1 492.9 L1006.8 491.7 L1008.4 490.5 L1009.9 489.3 L1011.5 488.0 L1013.1 486.7 L1014.6 485.5 L1016.1 484.2 L1017.6 482.8 L1019.1 481.5 L1020.6 480.1 L1022.1 478.8 L1023.5 477.4 L1024.9 476.0 L1026.3 474.5 L1027.7 473.0 L1029.0 471.5 L1030.3 470.0 L1031.6 468.5 L1032.8 466.9 L1034.0 465.3 L1035.2 463.7 L1036.4 462.1 L1037.6 460.5 L1038.8 458.8 L1039.9 457.2 L1041.1 455.6 L1042.3 453.9 L1043.5 452.3 L1044.7 450.7 L1045.9 449.2 L1047.2 447.6 L1048.4 446.0 L1049.7 444.4 L1050.9 442.9 L1052.2 441.3 L1053.4 439.8 L1054.7 438.2 L1056.0 436.6 L1057.2 435.1 L1058.5 433.6 L1059.8 432.0 L1061.1 430.5 L1062.4 429.0 L1063.7 427.5 L1065.0 426.0 L1066.4 424.5 L1067.8 423.0 L1069.1 421.5 L1070.5 420.1 L1071.9 418.6 L1073.3 417.2 L1074.7 415.8 L1076.2 414.4 L1077.7 413.1 L1079.2 411.8 L1080.7 410.5 L1082.2 409.2 L1083.8 407.9 L1085.3 406.6 L1086.9 405.4 L1088.7 404.4 L1090.5 403.7 L1092.5 403.5 L1094.4 403.7 L1096.3 404.4 L1098.0 405.5 L1099.4 406.8 L1100.5 408.4 L1101.4 410.3 L1102.0 412.1 L1102.6 414.1 L1103.1 416.0 L1103.6 417.9 L1104.1 419.9 L1104.6 421.8 L1105.3 423.7 L1105.9 425.6 L1106.6 427.5 L1107.3 429.4 L1107.9 431.3 L1108.6 433.2 L1109.1 435.1 L1109.6 437.0 L1110.1 439.0 L1110.4 441.0 L1110.7 442.9 L1111.0 444.9 L1111.2 446.9 L1111.4 448.9 L1111.6 450.9 L1111.8 452.9 L1111.9 454.9 L1112.1 456.9 L1112.2 458.9 L1112.4 460.9 L1112.5 462.9 L1112.7 464.9 L1112.8 466.9 L1113.0 468.9 L1113.1 470.9 L1113.2 472.9 L1113.3 474.9 L1113.4 476.9 L1113.5 478.9 L1113.5 480.9 L1113.6 482.9 L1113.7 484.9 L1113.8 486.9 L1114.0 488.9 L1114.2 490.9 L1114.4 492.9 L1114.8 494.9 L1115.1 496.9 L1115.6 498.8 L1116.0 500.8 L1116.7 502.6 L1117.6 504.4 L1118.9 505.8 L1120.6 506.8 L1122.5 507.3 L1124.5 507.5 L1126.5 507.6 L1128.5 507.7 L1130.5 507.9" stroke="#eb7b30" stroke-width="3"/>
<path d="M1132.4 512.8 L1130.4 513.1 L1128.4 513.4 L1126.5 513.8 L1124.5 514.1 L1122.5 514.4 L1120.5 514.8 L1118.6 515.1 L1116.6 515.5 L1114.6 515.8 L1112.6 516.1 L1110.6 516.4 L1108.6 516.6 L1106.6 516.9 L1104.6 517.1 L1102.7 517.3 L1100.7 517.4 L1098.7 517.6 L1096.6 517.7 L1094.6 517.8 L1092.6 517.9 L1090.6 518.0 L1088.6 518.1 L1086.6 518.1 L1084.6 518.2 L1082.6 518.2 L1080.6 518.3 L1078.6 518.3 L1076.6 518.3 L1074.6 518.3 L1072.6 518.3 L1070.6 518.3 L1068.6 518.4 L1066.6 518.4 L1064.6 518.3 L1062.6 518.3 L1060.5 518.3 L1058.5 518.3 L1056.5 518.3 L1054.5 518.3 L1052.5 518.3 L1050.5 518.3 L1048.5 518.2 L1046.5 518.2 L1044.5 518.2 L1042.5 518.2 L1040.5 518.1 L1038.5 518.1 L1036.5 518.1 L1034.5 518.1 L1032.5 518.0 L1030.5 518.0 L1028.4 518.0 L1026.4 517.9 L1024.4 517.9 L1022.4 517.9 L1020.4 517.9 L1018.4 517.8 L1016.4 517.8 L1014.4 517.8 L1012.4 517.8 L1010.4 517.8 L1008.4 517.7 L1006.4 517.7 L1004.4 517.7 L1002.4 517.7 L1000.4 517.7 L998.4 517.7 L996.3 517.7 L994.3 517.7 L992.3 517.7 L990.3 517.7 L988.3 517.7 L986.3 517.7 L984.3 517.7 L982.3 517.6 L980.3 517.6 L978.3 517.6 L976.3 517.6 L974.3 517.6 L972.3 517.6 L970.3 517.6 L968.3 517.6 L966.3 517.6 L964.2 517.6 L962.2 517.5 L960.2 517.5 L958.2 517.5 L956.2 517.5 L954.2 517.5 L952.2 517.5 L950.2 517.5 L948.2 517.5 L946.2 517.4 L944.2 517.4 L942.2 517.4 L940.2 517.4 L938.2 517.4 L936.2 517.4 L934.2 517.4 L932.1 517.4 L930.1 517.3 L928.1 517.3 L926.1 517.3 L924.1 517.3 L922.1 517.3 L920.1 517.3 L918.1 517.3 L916.1 517.3 L914.1 517.3 L912.1 517.2 L910.1 517.2 L908.1 517.2 L906.1 517.2 L904.1 517.2 L902.1 517.2 L900.0 517.2 L898.0 517.2 L896.0 517.2 L894.0 517.2 L892.0 517.2 L890.0 517.1 L888.0 517.1 L886.0 517.1 L884.0 517.1 L882.0 517.1 L880.0 517.1 L878.0 517.0 L876.0 517.0 L874.0 517.0 L872.0 517.0 L870.0 517.0 L867.9 516.9 L865.9 516.9 L863.9 516.9 L861.9 516.9 L859.9 516.9 L857.9 516.9 L855.9 516.9 L853.9 516.9 L851.9 516.9 L849.9 516.9 L847.9 516.9 L845.9 517.0 L843.9 517.0 L841.9 517.0 L839.9 517.1 L837.9 517.2 L835.9 517.2 L833.8 517.3 L831.8 517.3 L829.8 517.4 L827.8 517.4 L825.8 517.5 L823.8 517.5 L821.8 517.7 L819.8 517.9 L817.8 518.1 L815.9 518.5 L813.9 519.1 L812.1 519.8 L810.2 520.6 L808.5 521.5 L806.8 522.6 L805.2 523.9 L803.7 525.2 L802.2 526.5 L800.8 527.9 L799.5 529.4 L798.2 531.0 L797.0 532.6 L795.8 534.2 L794.6 535.8 L793.5 537.5 L792.4 539.2 L791.3 540.9 L790.2 542.5 L789.1 544.2 L788.0 545.9 L786.9 547.6 L785.8 549.2 L784.6 550.9 L783.5 552.5 L782.3 554.1 L781.1 555.8 L780.0 557.4 L778.8 559.0 L777.7 560.7 L776.5 562.3 L775.3 564.0 L774.2 565.6 L773.0 567.2 L771.8 568.9 L770.7 570.5 L769.5 572.1 L768.4 573.8 L767.2 575.4 L766.0 577.0 L764.9 578.7 L763.7 580.3 L762.5 581.9 L761.4 583.6 L760.2 585.2 L759.0 586.8 L757.9 588.5 L756.7 590.1 L755.5 591.7 L754.4 593.3 L753.2 595.0 L752.0 596.6 L750.8 598.2 L749.7 599.9 L748.5 601.5 L747.3 603.1 L746.2 604.7 L745.0 606.4 L743.8 608.0 L742.6 609.6 L741.5 611.3 L740.3 612.9 L739.1 614.5 L737.9 616.1 L736.8 617.8 L735.6 619.4 M735.6 619.4 L737.2 618.3 L738.9 617.1 L740.6 616.0 L742.2 614.9 L743.9 613.7 L745.5 612.6 L747.2 611.5 L748.9 610.4 L750.5 609.2 L752.1 608.0 L753.8 606.9 L755.4 605.7 L757.0 604.4 L758.5 603.2 L760.1 601.9 L761.6 600.6 L763.1 599.3 L764.6 598.0 L766.1 596.6 L767.6 595.2 L769.0 593.9 L770.5 592.5 L771.9 591.1 L773.4 589.7 L774.8 588.3 L776.2 586.9 L777.7 585.5 L779.1 584.1 L780.5 582.7 L782.0 581.3 L783.4 579.9 L784.9 578.5 L786.4 577.2 L787.9 575.8 L789.4 574.5 L790.9 573.1 L792.3 571.8 L793.8 570.5 L795.4 569.1 L796.9 567.8 L798.4 566.5 L799.9 565.2 L801.4 563.8 L802.9 562.5 L804.4 561.2 L805.9 559.9 L807.5 558.6 L809.0 557.3 L810.5 556.0 L812.0 554.7 L813.6 553.4 L815.1 552.1 L816.7 550.8 L818.2 549.6 L819.7 548.3 L821.3 547.0 L822.8 545.7 L824.4 544.4 L825.9 543.2 L827.5 541.9 L829.1 540.7 L830.7 539.4 L832.2 538.2 L833.8 537.0 L835.5 535.8 L837.1 534.6 L838.7 533.4 L840.3 532.2 L841.9 531.0 L843.5 529.8 L845.1 528.6 L846.8 527.5 L848.4 526.4 L850.1 525.3 L851.9 524.3 L853.6 523.3 L855.4 522.5 L857.3 521.7 L859.2 521.1 L861.1 520.5 L863.1 520.0 L865.0 519.7 L867.0 519.3 L869.0 519.0 L871.0 518.8 L873.0 518.5 L875.0 518.3 L877.0 518.1 L879.0 517.8 L881.0 517.7 L883.0 517.5 L885.0 517.4 L887.0 517.3 L889.0 517.2 L891.0 517.1 L893.0 517.0 L895.0 516.9 L897.0 516.8 L899.0 516.8 L901.0 516.6 L903.0 516.5 L905.0 516.4 L907.0 516.3 L909.0 516.2 L911.0 516.2 L913.0 516.1 L915.0 516.0 L917.0 515.9 L919.0 515.8 L921.1 515.7 L923.1 515.6 L925.1 515.5 L927.1 515.4 L929.1 515.3 L931.1 515.2 L933.1 515.1 L935.1 515.0 L937.1 514.9 L939.1 514.8 L941.1 514.7 L943.1 514.6 L945.1 514.5 L947.1 514.4 L949.1 514.4 L951.1 514.3 L953.1 514.2 L955.1 514.1 L957.1 514.0 L959.1 513.9 L961.1 513.7 L963.1 513.5 L965.1 513.3 L967.1 513.0 L969.1 512.7 L971.1 512.3 L973.0 511.9 L975.0 511.4 L976.9 510.9 L978.8 510.3 L980.8 509.7 L982.6 509.1 L984.5 508.4 L986.4 507.6 L988.2 506.8 L990.1 506.0 L991.9 505.1 L993.6 504.2 L995.4 503.3 L997.2 502.3 L998.9 501.2 L1000.6 500.2 L1002.2 499.1 L1003.9 497.9 L1005.5 496.7 L1007.1 495.5 L1008.6 494.2 L1010.1 492.8 L1011.5 491.4 L1013.0 490.0 L1014.4 488.6 L1015.7 487.1 L1017.1 485.6 L1018.4 484.1 L1019.7 482.6 L1021.0 481.0 L1022.3 479.5 L1023.5 478.0 L1024.8 476.4 L1026.1 474.9 L1027.4 473.3 L1028.7 471.8 L1029.9 470.2 L1031.2 468.6 L1032.4 467.0 L1033.6 465.5 L1034.8 463.8 L1036.0 462.2 L1037.2 460.6 L1038.4 459.0 L1039.6 457.4 L1040.8 455.8 L1042.0 454.2 L1043.2 452.6 L1044.5 451.0 L1045.7 449.4 L1046.9 447.9 L1048.2 446.3 L1049.4 444.7 L1050.7 443.2 L1051.9 441.6 L1053.2 440.0 L1054.5 438.5 L1055.7 436.9 L1057.0 435.4 L1058.3 433.8 L1059.6 432.3 L1060.9 430.7 L1062.2 429.2 L1063.5 427.7 L1064.8 426.2 L1066.2 424.7 L1067.5 423.2 L1068.9 421.8 L1070.3 420.3 L1071.7 418.9 L1073.1 417.4 L1074.5 416.0 L1075.9 414.6 L1077.4 413.3 L1078.9 412.0 L1080.5 410.7 L1082.0 409.4 L1083.5 408.1 L1085.1 406.8 L1086.7 405.6 L1088.4 404.6 L1090.2 403.8 L1092.2 403.5 L1094.1 403.7 L1096.0 404.3 L1097.7 405.3 L1099.2 406.6 L1100.4 408.2 L1101.4 409.9 L1102.1 411.8 L1102.7 413.7 L1103.3 415.6 L1103.7 417.6 L1104.2 419.5 L1104.6 421.5 L1104.9 423.5 L1105.2 425.5 L1105.5 427.5 L1105.7 429.4 L1105.9 431.4 L1106.0 433.4 L1106.2 435.4 L1106.3 437.4 L1106.4 439.4 L1106.6 441.5 L1106.7 443.5 L1106.8 445.5 L1106.9 447.5 L1107.1 449.5 L1107.2 451.5 L1107.3 453.5 L1107.4 455.5 L1107.4 457.5 L1107.5 459.5 L1107.6 461.5 L1107.6 463.5 L1107.7 465.5 L1107.7 467.5 L1107.8 469.5 L1107.8 471.5 L1107.9 473.5 L1107.9 475.5 L1108.0 477.5 L1108.0 479.5 L1108.1 481.6 L1108.1 483.6 L1108.1 485.6 L1108.1 487.6 L1108.1 489.6 L1108.1 491.6 L1108.1 493.6 L1108.1 495.6 L1108.2 497.6 L1108.3 499.6 L1108.5 501.6 L1108.8 503.6 L1109.1 505.6 L1109.6 507.5 L1110.1 509.4 L1110.9 511.3 L1112.0 512.8 L1113.6 513.9 L1115.5 514.5 L1117.5 514.6 L1119.5 514.5 L1121.5 514.3 L1123.5 514.0 L1125.4 513.7 L1127.4 513.4 L1129.4 513.1 L1131.4 512.9 L1132.4 512.8" stroke="#13236a" stroke-width="3.2"/>
</g>
<rect x="886.5" y="561.5" width="252.5" height="74" fill="#fff" stroke="#000" stroke-width="3"/>
<line x1="936.5" y1="580.3" x2="1008.5" y2="580.3" stroke="#eb7b30" stroke-width="3"/>
<line x1="936.5" y1="616.7" x2="1008.5" y2="616.7" stroke="#13236a" stroke-width="3.2"/>
<g font-family="Liberation Sans, sans-serif" fill="#111" stroke="#111" stroke-width="0.55"><text x="45.0" y="808.8" font-size="31.0" text-anchor="middle" textLength="67.5" lengthAdjust="spacingAndGlyphs" >-1.05</text><text x="245.3" y="808.8" font-size="31.0" text-anchor="middle" textLength="67.5" lengthAdjust="spacingAndGlyphs" >-0.85</text><text x="445.7" y="808.8" font-size="31.0" text-anchor="middle" textLength="67.5" lengthAdjust="spacingAndGlyphs" >-0.65</text><text x="646.0" y="808.8" font-size="31.0" text-anchor="middle" textLength="67.5" lengthAdjust="spacingAndGlyphs" >-0.45</text><text x="846.3" y="808.8" font-size="31.0" text-anchor="middle" textLength="67.5" lengthAdjust="spacingAndGlyphs" >-0.25</text><text x="1046.7" y="808.8" font-size="31.0" text-anchor="middle" textLength="67.5" lengthAdjust="spacingAndGlyphs" >-0.05</text><text x="1247.0" y="808.8" font-size="31.0" text-anchor="middle" textLength="56.0" lengthAdjust="spacingAndGlyphs" >0.15</text><text x="716.4" y="706.0" font-size="31.0" text-anchor="middle" textLength="67.0" lengthAdjust="spacingAndGlyphs" >-1.05</text><text x="896.4" y="706.0" font-size="31.0" text-anchor="middle" textLength="67.0" lengthAdjust="spacingAndGlyphs" >-0.55</text><text x="1076.4" y="706.0" font-size="31.0" text-anchor="middle" textLength="67.0" lengthAdjust="spacingAndGlyphs" >-0.05</text><text x="1016.5" y="590.3" font-size="31.0" text-anchor="start" textLength="64.5" lengthAdjust="spacingAndGlyphs" >1:0:4</text><text x="1016.5" y="626.5" font-size="31.0" text-anchor="start" textLength="64.5" lengthAdjust="spacingAndGlyphs" >1:1:4</text><text x="744.3" y="48.8" font-size="36.0" text-anchor="middle" textLength="44.0" lengthAdjust="spacingAndGlyphs" >(a)</text><text x="896.3" y="48.8" font-size="36.0" text-anchor="middle" textLength="48.0" lengthAdjust="spacingAndGlyphs" >(b)</text><text x="1029.3" y="48.8" font-size="36.0" text-anchor="middle" textLength="43.0" lengthAdjust="spacingAndGlyphs" >(c)</text><text x="645.0" y="861.0" font-size="32.0" text-anchor="middle" textLength="469.0" lengthAdjust="spacingAndGlyphs" >Applied Potential (V vs Ag/AgCl)</text><text x="0" y="0" font-size="31" text-anchor="middle" textLength="289" lengthAdjust="spacingAndGlyphs" transform="translate(29.8 378.3) rotate(-90)">Normalized Current</text></g>
</svg>
</body></html>
